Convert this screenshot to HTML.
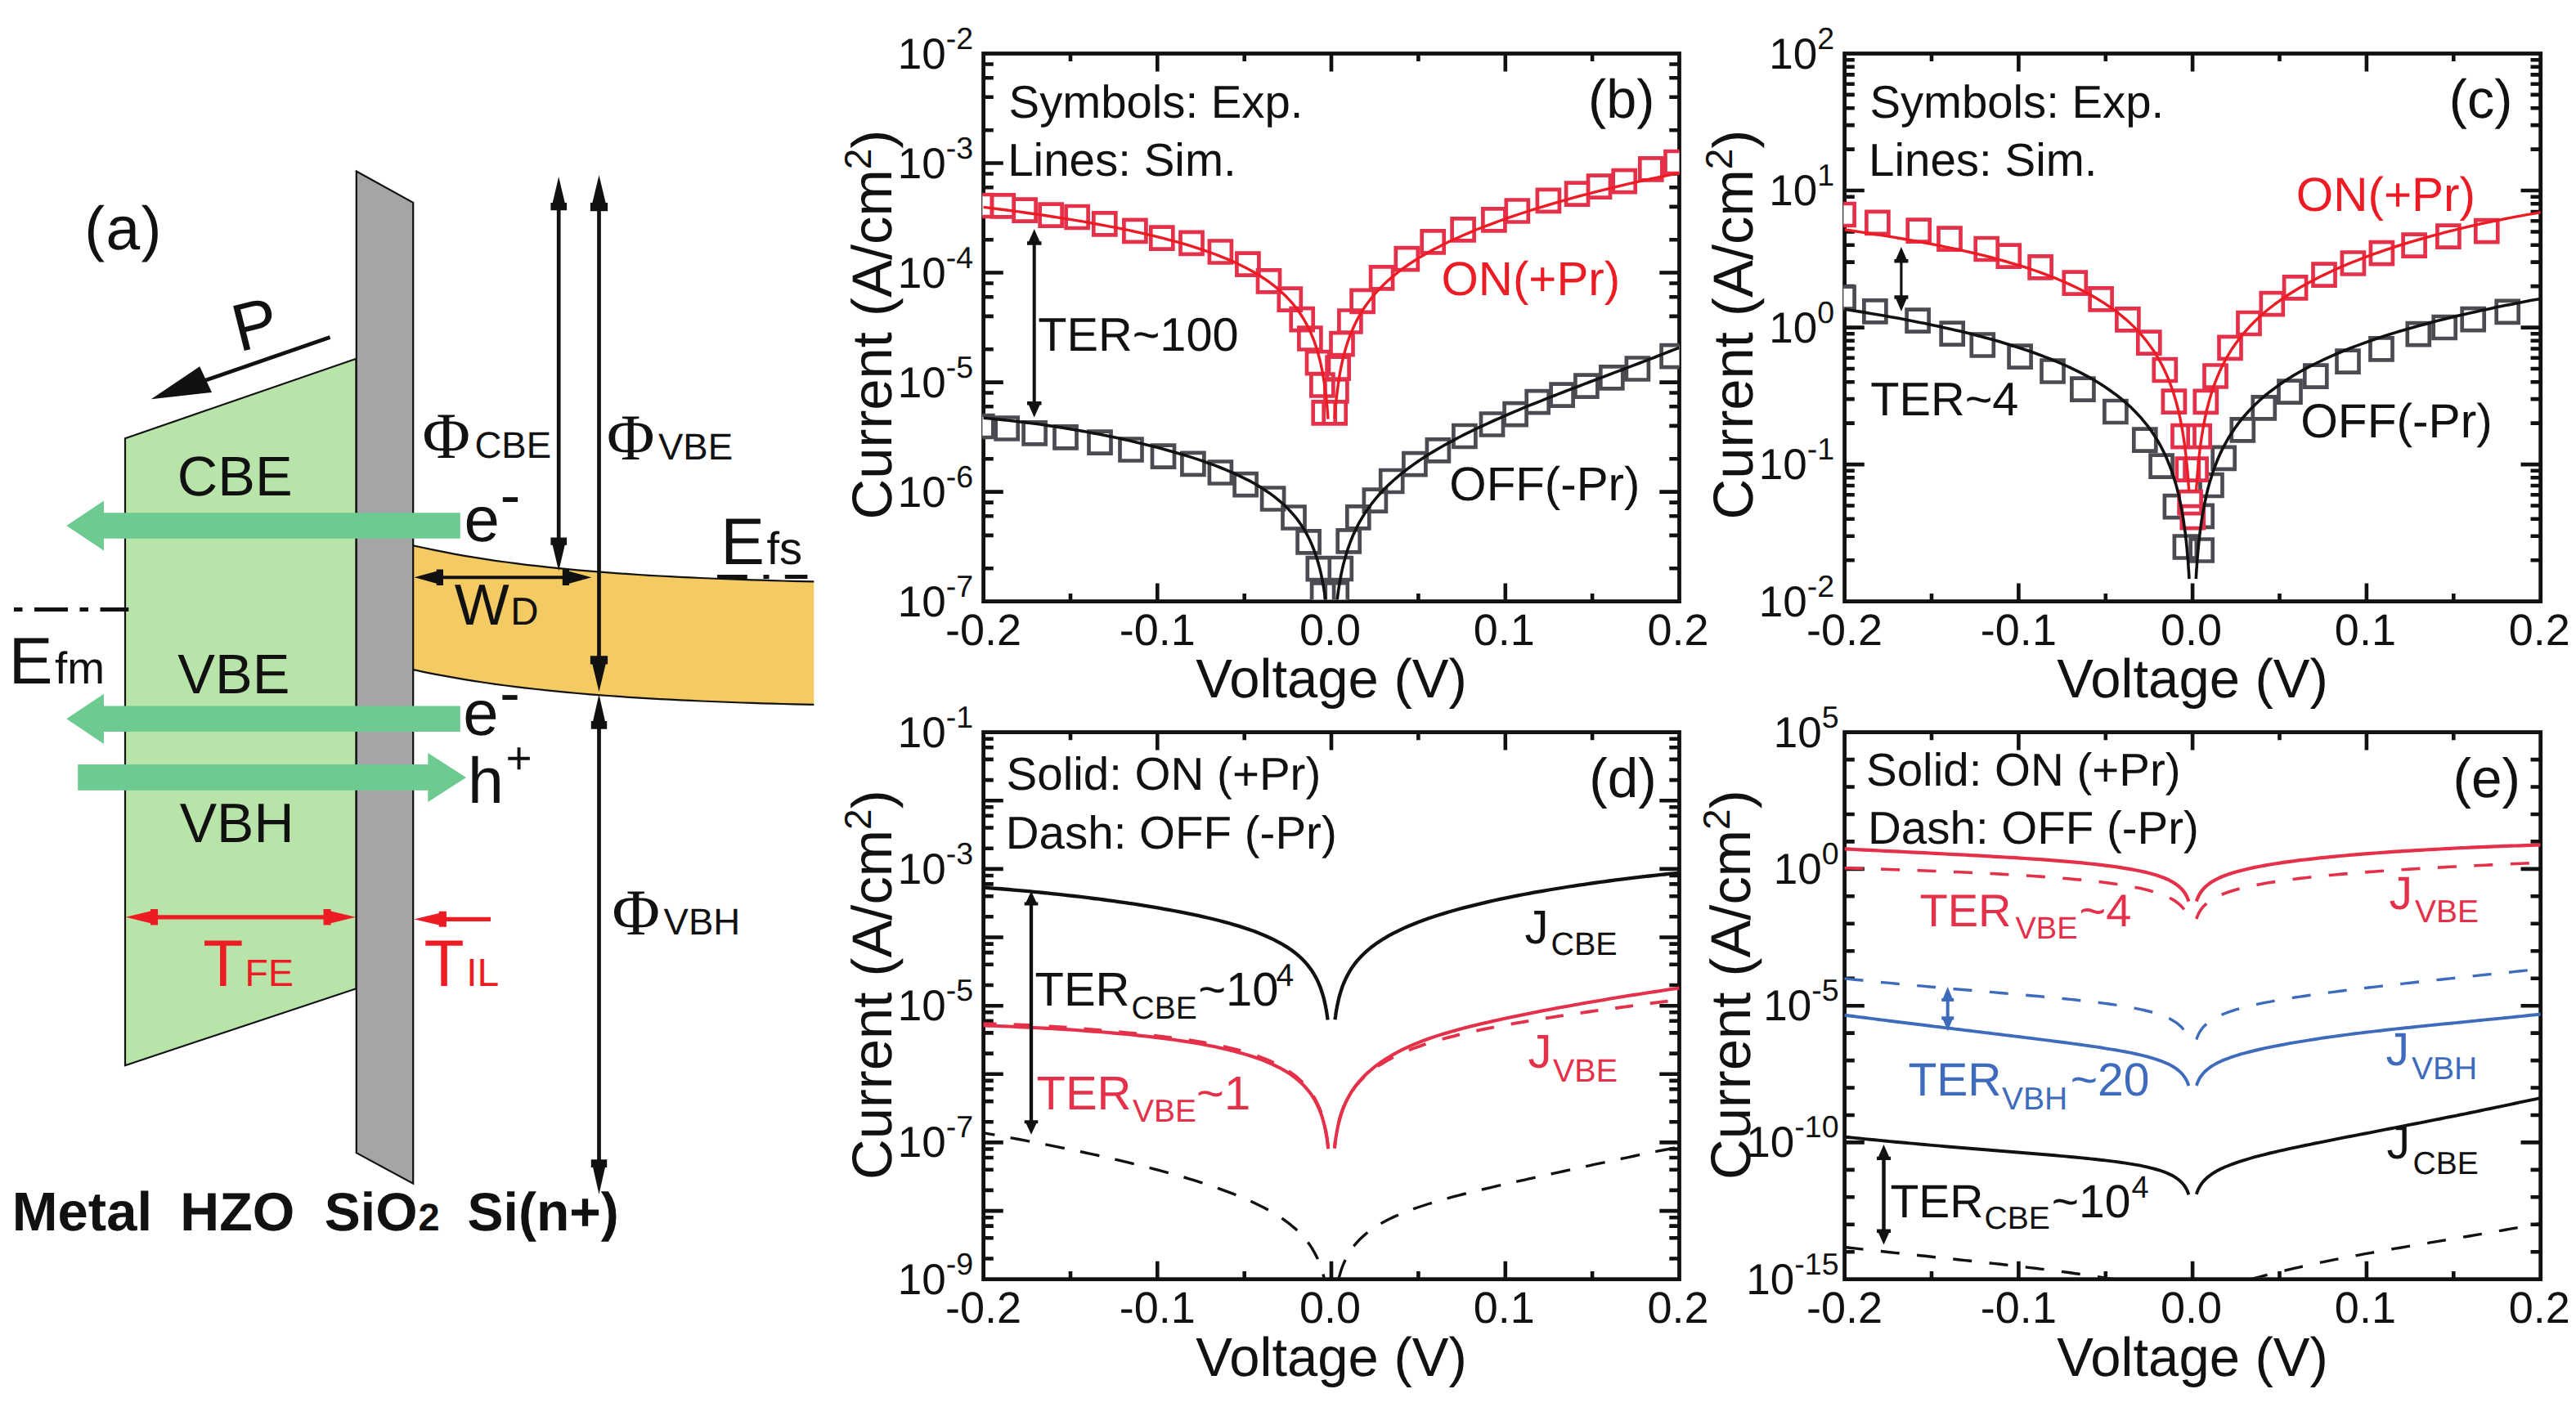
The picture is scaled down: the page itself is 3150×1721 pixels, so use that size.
<!DOCTYPE html>
<html lang="en">
<head>
<meta charset="utf-8">
<title>FTJ band diagram and I-V characteristics</title>
<style>html,body{margin:0;padding:0;background:#fff}body{width:3150px;height:1721px;overflow:hidden}svg{display:block}</style>
</head>
<body>
<svg width="3150" height="1721" viewBox="0 0 3150 1721" font-family="'Liberation Sans', Arial, Helvetica, sans-serif" fill="#111111" text-rendering="geometricPrecision">
<rect width="3150" height="1721" fill="#ffffff"/>
<defs>
<clipPath id="cb"><rect x="1201.3" y="67.5" width="852.2" height="666.1"/></clipPath>
<clipPath id="cc"><rect x="2254.3" y="67.5" width="852.4" height="666.1"/></clipPath>
<clipPath id="cd"><rect x="1201.3" y="897.6" width="852.2" height="665.1"/></clipPath>
<clipPath id="ce"><rect x="2254.3" y="897.6" width="852.4" height="665.1"/></clipPath>
</defs>
<g id="panel-a">
<path d="M153 536.2L435.6 438.8V1209.2L153 1303.2z" fill="#b8e4a9" stroke="#111111" stroke-width="2.2" stroke-linejoin="miter"/>
<path d="M505.2 667.2L517.8 670L530.3 672.7L542.9 675.2L555.5 677.6L568 679.8L580.6 681.9L593.2 683.9L605.7 685.8L618.3 687.5L630.9 689.2L643.4 690.8L656 692.2L668.6 693.6L681.1 694.9L693.7 696.2L706.3 697.3L718.8 698.4L731.4 699.4L744 700.4L756.5 701.3L769.1 702.2L781.7 703L794.2 703.8L806.8 704.5L819.4 705.2L831.9 705.8L844.5 706.4L857.1 707L869.6 707.5L882.2 708L894.8 708.5L907.3 708.9L919.9 709.3L932.5 709.7L945 710.1L957.6 710.5L970.2 710.8L982.7 711.1L995.3 711.4L995.3 861.9L982.7 861.6L970.2 861.3L957.6 861L945 860.6L932.5 860.3L919.9 859.9L907.3 859.5L894.8 859L882.2 858.5L869.6 858L857.1 857.5L844.5 856.9L831.9 856.4L819.4 855.7L806.8 855.1L794.2 854.3L781.7 853.6L769.1 852.8L756.5 851.9L744 851L731.4 850.1L718.8 849.1L706.3 848L693.7 846.9L681.1 845.7L668.6 844.4L656 843L643.4 841.6L630.9 840.1L618.3 838.5L605.7 836.8L593.2 835L580.6 833.1L568 831.1L555.5 828.9L542.9 826.7L530.3 824.3L517.8 821.8L505.2 819.1z" fill="#f4cb62"/>
<path d="M505.2 667.2L517.8 670L530.3 672.7L542.9 675.2L555.5 677.6L568 679.8L580.6 681.9L593.2 683.9L605.7 685.8L618.3 687.5L630.9 689.2L643.4 690.8L656 692.2L668.6 693.6L681.1 694.9L693.7 696.2L706.3 697.3L718.8 698.4L731.4 699.4L744 700.4L756.5 701.3L769.1 702.2L781.7 703L794.2 703.8L806.8 704.5L819.4 705.2L831.9 705.8L844.5 706.4L857.1 707L869.6 707.5L882.2 708L894.8 708.5L907.3 708.9L919.9 709.3L932.5 709.7L945 710.1L957.6 710.5L970.2 710.8L982.7 711.1L995.3 711.4" fill="none" stroke="#111111" stroke-width="2.2"/>
<path d="M995.3 861.9L982.7 861.6L970.2 861.3L957.6 861L945 860.6L932.5 860.3L919.9 859.9L907.3 859.5L894.8 859L882.2 858.5L869.6 858L857.1 857.5L844.5 856.9L831.9 856.4L819.4 855.7L806.8 855.1L794.2 854.3L781.7 853.6L769.1 852.8L756.5 851.9L744 851L731.4 850.1L718.8 849.1L706.3 848L693.7 846.9L681.1 845.7L668.6 844.4L656 843L643.4 841.6L630.9 840.1L618.3 838.5L605.7 836.8L593.2 835L580.6 833.1L568 831.1L555.5 828.9L542.9 826.7L530.3 824.3L517.8 821.8L505.2 819.1" fill="none" stroke="#111111" stroke-width="2.2"/>
<path d="M435.8 209.5L505.2 247.8V1447.6L435.8 1410.2z" fill="#a5a5a7" stroke="#111111" stroke-width="2.2"/>
<path d="M81.3 643L127 612.4V627.2H562.8V658.8H127V673.6z" fill="#6dca90"/>
<path d="M81.3 879.3L127 848.7V863.5H562.8V895.1H127V909.9z" fill="#6dca90"/>
<path d="M570 950.9L523.3 920.9V935.1H95.2V966.7H523.3V980.9z" fill="#6dca90"/>
<path d="M403.6 412.6L245 467.3" stroke="#111111" stroke-width="4.8"/>
<path d="M184.8 488.3L244.2 448.3L259 480z" fill="#111111"/>
<text transform="translate(292.3 430.7) rotate(-14)" font-size="82">P</text>
<text x="287.2" y="606.3" font-size="68.5" text-anchor="middle">CBE</text>
<text x="285.9" y="847.9" font-size="68.5" text-anchor="middle">VBE</text>
<text x="289.6" y="1030.2" font-size="68" text-anchor="middle">VBH</text>
<text x="103.2" y="304.8" font-size="75" letter-spacing="1.3">(a)</text>
<path d="M17 745.5H157.3" stroke="#111111" stroke-width="4.8" stroke-dasharray="10.5 14.5 41 14.5"/>
<text x="10.8" y="836" font-size="80.5">E<tspan font-size="55" dx="2.5">fm</tspan></text>
<path d="M877 705.6H913.8M933.5 705.6H940.5M959.8 705.6H987.4" stroke="#111111" stroke-width="5"/>
<text x="881.2" y="690.4" font-size="80.5">E<tspan font-size="56" dx="2.6">fs</tspan></text>
<path d="M683.2 255.3V659.4" stroke="#111111" stroke-width="4.7"/>
<path d="M683.2 216.3L675.7 247.9L673.4 247.9L673.4 257.3L693.1 257.3L693.1 247.9L690.7 247.9z" fill="#111111"/>
<path d="M683.2 698.4L690.7 666.8L693.1 666.8L693.1 657.4L673.4 657.4L673.4 666.8L675.7 666.8z" fill="#111111"/>
<path d="M732.5 256.2V804.3" stroke="#111111" stroke-width="4.7"/>
<path d="M732.5 214.2L724.4 248.1L721.9 248.1L721.9 258.2L743.1 258.2L743.1 248.1L740.6 248.1z" fill="#111111"/>
<path d="M732.5 846.3L740.6 812.4L743.1 812.4L743.1 802.3L721.9 802.3L721.9 812.4L724.4 812.4z" fill="#111111"/>
<path d="M732.5 889.7V1420.3" stroke="#111111" stroke-width="4.7"/>
<path d="M732.5 849.2L725.1 881.9L722.8 881.9L722.8 891.7L742.2 891.7L742.2 881.9L739.9 881.9z" fill="#111111"/>
<path d="M732.5 1460.8L739.9 1428.1L742.2 1428.1L742.2 1418.3L722.8 1418.3L722.8 1428.1L725.1 1428.1z" fill="#111111"/>
<path d="M540 706.2H689.8" stroke="#111111" stroke-width="4"/>
<path d="M506.5 706.2L533.8 713.7L533.8 716.1L542 716.1L542 696.4L533.8 696.4L533.8 698.7z" fill="#111111"/>
<path d="M723.3 706.2L696 698.7L696 696.4L687.8 696.4L687.8 716.1L696 716.1L696 713.7z" fill="#111111"/>
<text x="516.5" y="560" font-size="80" font-family="'Liberation Serif', 'Times New Roman', Times, serif">&#934;<tspan font-family="'Liberation Sans', Arial, Helvetica, sans-serif" font-size="45.5" dx="5.5">CBE</tspan></text>
<text x="742" y="562.4" font-size="80" font-family="'Liberation Serif', 'Times New Roman', Times, serif">&#934;<tspan font-family="'Liberation Sans', Arial, Helvetica, sans-serif" font-size="45.5" dx="4.5">VBE</tspan></text>
<text x="748.6" y="1143" font-size="80" font-family="'Liberation Serif', 'Times New Roman', Times, serif">&#934;<tspan font-family="'Liberation Sans', Arial, Helvetica, sans-serif" font-size="45.5" dx="4.5">VBH</tspan></text>
<text x="555.8" y="764" font-size="71">W<tspan font-size="47.5" dx="1.5">D</tspan></text>
<text x="567.6" y="661.6" font-size="78">e<tspan font-size="75" dy="-30.6" dx="0.6">-</tspan></text>
<text x="566.2" y="898.8" font-size="78">e<tspan font-size="75" dy="-25.4" dx="1.5">-</tspan></text>
<text x="572.0" y="981.5" font-size="79">h<tspan font-size="55" dy="-35.4" dx="2.5">+</tspan></text>
<path d="M191.1 1121.8H397.5" stroke="#ed1c24" stroke-width="5.2"/>
<path d="M153.6 1121.8L184 1129.2L184 1131.5L193.1 1131.5L193.1 1112L184 1112L184 1114.4z" fill="#ed1c24"/>
<path d="M435 1121.8L404.6 1114.4L404.6 1112L395.5 1112L395.5 1131.5L404.6 1131.5L404.6 1129.2z" fill="#ed1c24"/>
<path d="M543.9 1124.3H600" stroke="#ed1c24" stroke-width="5.2"/>
<path d="M506.4 1124.3L536.8 1131.5L536.8 1133.8L545.9 1133.8L545.9 1114.8L536.8 1114.8L536.8 1117.1z" fill="#ed1c24"/>
<text x="248.3" y="1205.5" font-size="80.5" fill="#ed1c24">T<tspan font-size="46.5" dx="2">FE</tspan></text>
<text x="518.6" y="1205.5" font-size="80.5" fill="#ed1c24">T<tspan font-size="48" dx="2.5">IL</tspan></text>
<text x="14.8" y="1505.3" font-size="67" font-weight="bold">Metal</text>
<text x="220.3" y="1505.3" font-size="66.3" font-weight="bold">HZO</text>
<text x="396.8" y="1505.3" font-size="66" font-weight="bold">SiO<tspan font-size="47" dx="1">2</tspan></text>
<text x="571.6" y="1505.3" font-size="66" font-weight="bold">Si(n+)</text>
</g>
<g id="panel-b">
<path d="M1202.6 159.2h12.2M2053.5 159.2h-12.2M1202.6 118.8h12.2M2053.5 118.8h-12.2M1202.6 95.2h12.2M2053.5 95.2h-12.2M1202.6 78.5h12.2M2053.5 78.5h-12.2M1202.6 199.5h24.2M2053.5 199.5h-24.2M1202.6 293.2h12.2M2053.5 293.2h-12.2M1202.6 252.9h12.2M2053.5 252.9h-12.2M1202.6 229.3h12.2M2053.5 229.3h-12.2M1202.6 212.5h12.2M2053.5 212.5h-12.2M1202.6 333.5h24.2M2053.5 333.5h-24.2M1202.6 427.2h12.2M2053.5 427.2h-12.2M1202.6 386.9h12.2M2053.5 386.9h-12.2M1202.6 363.3h12.2M2053.5 363.3h-12.2M1202.6 346.5h12.2M2053.5 346.5h-12.2M1202.6 467.6h24.2M2053.5 467.6h-24.2M1202.6 561.2h12.2M2053.5 561.2h-12.2M1202.6 520.9h12.2M2053.5 520.9h-12.2M1202.6 497.3h12.2M2053.5 497.3h-12.2M1202.6 480.5h12.2M2053.5 480.5h-12.2M1202.6 601.6h24.2M2053.5 601.6h-24.2M1202.6 695.3h12.2M2053.5 695.3h-12.2M1202.6 654.9h12.2M2053.5 654.9h-12.2M1202.6 631.3h12.2M2053.5 631.3h-12.2M1202.6 614.6h12.2M2053.5 614.6h-12.2M1309 65.5v9.6M1309 735.6v-9.6M1415.3 65.5v22M1415.3 735.6v-22M1521.7 65.5v9.6M1521.7 735.6v-9.6M1628 65.5v22M1628 735.6v-22M1734.4 65.5v9.6M1734.4 735.6v-9.6M1840.8 65.5v22M1840.8 735.6v-22M1947.1 65.5v9.6M1947.1 735.6v-9.6" stroke="#111111" stroke-width="4.6" fill="none"/>
<text x="1190" y="83.5" font-size="53" text-anchor="end">10<tspan font-size="37.5" dy="-24">-2</tspan></text>
<text x="1190" y="217.5" font-size="53" text-anchor="end">10<tspan font-size="37.5" dy="-24">-3</tspan></text>
<text x="1190" y="351.5" font-size="53" text-anchor="end">10<tspan font-size="37.5" dy="-24">-4</tspan></text>
<text x="1190" y="485.6" font-size="53" text-anchor="end">10<tspan font-size="37.5" dy="-24">-5</tspan></text>
<text x="1190" y="619.6" font-size="53" text-anchor="end">10<tspan font-size="37.5" dy="-24">-6</tspan></text>
<text x="1190" y="753.6" font-size="53" text-anchor="end">10<tspan font-size="37.5" dy="-24">-7</tspan></text>
<text x="1202.6" y="788.9" font-size="54" text-anchor="middle">-0.2</text>
<text x="1415.3" y="788.9" font-size="54" text-anchor="middle">-0.1</text>
<text x="1626.5" y="788.9" font-size="54" text-anchor="middle">0.0</text>
<text x="1839.3" y="788.9" font-size="54" text-anchor="middle">0.1</text>
<text x="2052" y="788.9" font-size="54" text-anchor="middle">0.2</text>
<text x="1628" y="853.4" font-size="67" text-anchor="middle">Voltage (V)</text>
<text transform="translate(1090.4 397.1) rotate(-90)" font-size="68.8" text-anchor="middle">Current (A/cm<tspan font-size="46" dy="-25.5">2</tspan><tspan dy="25.5">)</tspan></text>
<rect x="1202.6" y="65.5" width="850.9" height="670.1" fill="none" stroke="#111111" stroke-width="4.8"/>
<g clip-path="url(#cb)">
<path d="M1187.3 508h27v27h-27zM1217.7 510.5h27v27h-27zM1251.6 516.3h27v27h-27zM1289.5 521.4h27v27h-27zM1331.5 527.6h27v27h-27zM1369.5 536.5h27v27h-27zM1409 544.6h27v27h-27zM1445.4 553.8h27v27h-27zM1478.9 564.5h27v27h-27zM1509.6 579.2h27v27h-27zM1543.1 596.5h27v27h-27zM1568.5 619.5h27v27h-27zM1586.6 649.3h27v27h-27zM1598.8 682.2h27v27h-27zM1604.1 713.5h27v27h-27zM1620.8 713.2h27v27h-27zM1625.8 682h27v27h-27zM1635.7 648.4h27v27h-27zM1647.3 619.4h27v27h-27zM1667.9 598.7h27v27h-27zM1688.2 575h27v27h-27zM1716.4 554.1h27v27h-27zM1744.9 537.3h27v27h-27zM1777.4 520h27v27h-27zM1811 505.5h27v27h-27zM1839.6 493.1h27v27h-27zM1866.7 478.2h27v27h-27zM1896.6 469.7h27v27h-27zM1926.4 458.6h27v27h-27zM1957.3 448.3h27v27h-27zM1988.9 437.5h27v27h-27zM2031.6 422.1h27v27h-27z" fill="#ffffff"/>
<path d="M1187.3 508h27v27h-27zM1217.7 510.5h27v27h-27zM1251.6 516.3h27v27h-27zM1289.5 521.4h27v27h-27zM1331.5 527.6h27v27h-27zM1369.5 536.5h27v27h-27zM1409 544.6h27v27h-27zM1445.4 553.8h27v27h-27zM1478.9 564.5h27v27h-27zM1509.6 579.2h27v27h-27zM1543.1 596.5h27v27h-27zM1568.5 619.5h27v27h-27zM1586.6 649.3h27v27h-27zM1598.8 682.2h27v27h-27zM1604.1 713.5h27v27h-27zM1620.8 713.2h27v27h-27zM1625.8 682h27v27h-27zM1635.7 648.4h27v27h-27zM1647.3 619.4h27v27h-27zM1667.9 598.7h27v27h-27zM1688.2 575h27v27h-27zM1716.4 554.1h27v27h-27zM1744.9 537.3h27v27h-27zM1777.4 520h27v27h-27zM1811 505.5h27v27h-27zM1839.6 493.1h27v27h-27zM1866.7 478.2h27v27h-27zM1896.6 469.7h27v27h-27zM1926.4 458.6h27v27h-27zM1957.3 448.3h27v27h-27zM1988.9 437.5h27v27h-27zM2031.6 422.1h27v27h-27z" fill="none" stroke="#4b4b51" stroke-width="4.7"/>
<path d="M1186.1 238h27v27h-27zM1212.8 238.4h27v27h-27zM1239.6 243.7h27v27h-27zM1271.6 249.7h27v27h-27zM1303.6 252h27v27h-27zM1337.3 260.3h27v27h-27zM1374.4 268.9h27v27h-27zM1407.3 277.6h27v27h-27zM1443.5 283.8h27v27h-27zM1478.9 294.5h27v27h-27zM1512.4 309.6h27v27h-27zM1538 330.3h27v27h-27zM1563.8 352.7h27v27h-27zM1578.7 377.2h27v27h-27zM1588.4 400.5h27v27h-27zM1598 430.1h27v27h-27zM1603.4 457.5h27v27h-27zM1605.7 491.4h27v27h-27zM1618.7 491.4h27v27h-27zM1620.4 464.4h27v27h-27zM1622.6 436.6h27v27h-27zM1627.5 407.1h27v27h-27zM1637.4 379.5h27v27h-27zM1652.6 354.8h27v27h-27zM1676.1 326.3h27v27h-27zM1706.8 303.1h27v27h-27zM1738.7 282.4h27v27h-27zM1775.6 267.3h27v27h-27zM1813.4 255.3h27v27h-27zM1841.8 244.5h27v27h-27zM1879.9 231.9h27v27h-27zM1915.1 223.6h27v27h-27zM1942 214.6h27v27h-27zM1972.7 208.2h27v27h-27zM2005.3 193.3h27v27h-27zM2036.5 185h27v27h-27z" fill="#ffffff"/>
<path d="M1186.1 238h27v27h-27zM1212.8 238.4h27v27h-27zM1239.6 243.7h27v27h-27zM1271.6 249.7h27v27h-27zM1303.6 252h27v27h-27zM1337.3 260.3h27v27h-27zM1374.4 268.9h27v27h-27zM1407.3 277.6h27v27h-27zM1443.5 283.8h27v27h-27zM1478.9 294.5h27v27h-27zM1512.4 309.6h27v27h-27zM1538 330.3h27v27h-27zM1563.8 352.7h27v27h-27zM1578.7 377.2h27v27h-27zM1588.4 400.5h27v27h-27zM1598 430.1h27v27h-27zM1603.4 457.5h27v27h-27zM1605.7 491.4h27v27h-27zM1618.7 491.4h27v27h-27zM1620.4 464.4h27v27h-27zM1622.6 436.6h27v27h-27zM1627.5 407.1h27v27h-27zM1637.4 379.5h27v27h-27zM1652.6 354.8h27v27h-27zM1676.1 326.3h27v27h-27zM1706.8 303.1h27v27h-27zM1738.7 282.4h27v27h-27zM1775.6 267.3h27v27h-27zM1813.4 255.3h27v27h-27zM1841.8 244.5h27v27h-27zM1879.9 231.9h27v27h-27zM1915.1 223.6h27v27h-27zM1942 214.6h27v27h-27zM1972.7 208.2h27v27h-27zM2005.3 193.3h27v27h-27zM2036.5 185h27v27h-27z" fill="none" stroke="#e5304a" stroke-width="4.7"/>
<path d="M1202.6 253.4L1208.7 254.1L1214.9 254.9L1221 255.7L1227.1 256.5L1233.2 257.3L1239.4 258.1L1245.5 258.9L1251.6 259.8L1257.8 260.7L1263.9 261.5L1270 262.4L1276.2 263.3L1282.3 264.2L1288.4 265.2L1294.5 266.1L1300.7 267.1L1306.8 268.1L1312.9 269.1L1319.1 270.1L1325.2 271.2L1331.3 272.2L1337.4 273.3L1343.6 274.5L1349.7 275.6L1355.8 276.8L1362 277.9L1368.1 279.2L1374.2 280.4L1380.4 281.7L1386.5 283L1392.6 284.4L1398.7 285.7L1404.9 287.2L1411 288.6L1417.1 290.1L1423.3 291.7L1429.4 293.3L1435.5 294.9L1441.6 296.6L1447.8 298.4L1453.9 300.2L1460 302.1L1466.2 304.1L1472.3 306.2L1478.4 308.3L1484.6 310.5L1490.7 312.9L1496.8 315.3L1502.9 317.9L1509.1 320.6L1515.2 323.5L1521.3 326.5L1527.5 329.7L1533.6 333.1L1539.7 336.8L1545.8 340.7L1552 345L1558.1 349.6L1564.2 354.7L1568.6 358.7L1572.7 362.6L1576.4 366.6L1580 370.5L1583.2 374.5L1586.3 378.5L1589.2 382.5L1591.8 386.5L1594.3 390.5L1596.6 394.5L1598.7 398.5L1600.7 402.5L1602.6 406.6L1604.3 410.6L1606 414.6L1607.5 418.7L1608.9 422.7L1610.2 426.8L1611.4 430.8L1612.5 434.9L1613.6 439L1614.6 443L1615.5 447.1L1616.4 451.2L1617.2 455.3L1617.9 459.4L1618.6 463.4L1619.2 467.5L1619.8 471.6L1620.4 475.7L1620.9 479.8L1621.4 483.9L1621.9 488L1622.3 492.1L1622.7 496.2L1623.1 500.3L1623.4 504.4L1623.7 508.5L1624 512.6" fill="none" stroke="#ed1c24" stroke-width="3.4" stroke-linejoin="round"/>
<path d="M1632.1 512.2L1632.4 508L1632.7 503.9L1633 499.8L1633.4 495.6L1633.8 491.5L1634.2 487.4L1634.7 483.2L1635.2 479.1L1635.7 474.9L1636.3 470.8L1636.9 466.6L1637.5 462.5L1638.2 458.3L1638.9 454.2L1639.7 450L1640.6 445.9L1641.5 441.7L1642.5 437.5L1643.6 433.3L1644.7 429.2L1645.9 425L1647.2 420.8L1648.6 416.6L1650.1 412.4L1651.8 408.2L1653.5 404L1655.4 399.8L1657.4 395.5L1659.5 391.3L1661.8 387.1L1664.3 382.8L1666.9 378.5L1669.8 374.3L1672.9 370L1676.1 365.7L1679.7 361.3L1683.4 357L1687.5 352.6L1691.9 348.3L1698 342.6L1704.1 337.3L1710.3 332.4L1716.4 327.8L1722.5 323.5L1728.6 319.5L1734.8 315.6L1740.9 312L1747 308.5L1753.2 305.1L1759.3 301.9L1765.4 298.8L1771.5 295.8L1777.7 293L1783.8 290.2L1789.9 287.5L1796.1 284.9L1802.2 282.3L1808.3 279.8L1814.5 277.4L1820.6 275.1L1826.7 272.8L1832.8 270.5L1839 268.3L1845.1 266.2L1851.2 264.1L1857.4 262L1863.5 260L1869.6 258L1875.7 256.1L1881.9 254.2L1888 252.3L1894.1 250.5L1900.3 248.7L1906.4 246.9L1912.5 245.1L1918.7 243.4L1924.8 241.7L1930.9 240L1937 238.4L1943.2 236.8L1949.3 235.2L1955.4 233.6L1961.6 232.1L1967.7 230.6L1973.8 229.1L1979.9 227.6L1986.1 226.1L1992.2 224.7L1998.3 223.3L2004.5 221.9L2010.6 220.5L2016.7 219.2L2022.9 217.9L2029 216.6L2035.1 215.3L2041.2 214L2047.4 212.8L2053.5 211.5" fill="none" stroke="#ed1c24" stroke-width="3.4" stroke-linejoin="round"/>
<path d="M1202.6 511.3L1208.7 511.8L1214.9 512.4L1221 513L1227.1 513.6L1233.2 514.3L1239.4 515L1245.5 515.7L1251.6 516.4L1257.8 517.2L1263.9 518L1270 518.8L1276.2 519.7L1282.3 520.6L1288.4 521.5L1294.5 522.5L1300.7 523.4L1306.8 524.5L1312.9 525.5L1319.1 526.6L1325.2 527.6L1331.3 528.8L1337.4 529.9L1343.6 531.1L1349.7 532.3L1355.8 533.6L1362 534.8L1368.1 536.1L1374.2 537.5L1380.4 538.8L1386.5 540.2L1392.6 541.7L1398.7 543.2L1404.9 544.7L1411 546.2L1417.1 547.8L1423.3 549.5L1429.4 551.2L1435.5 552.9L1441.6 554.7L1447.8 556.5L1453.9 558.4L1460 560.4L1466.2 562.4L1472.3 564.5L1478.4 566.7L1484.6 568.9L1490.7 571.3L1496.8 573.7L1502.9 576.3L1509.1 579L1515.2 581.8L1521.3 584.8L1527.5 587.9L1533.6 591.3L1539.7 594.9L1545.8 598.7L1552 602.9L1558.1 607.4L1564.2 612.3L1569.6 617L1574.4 621.7L1578.9 626.4L1583 631.2L1586.8 635.9L1590.2 640.7L1593.4 645.5L1596.3 650.3L1598.9 655.2L1601.4 660L1603.6 664.9L1605.6 669.8L1607.5 674.7L1609.2 679.6L1610.8 684.5L1612.2 689.4L1613.6 694.4L1614.8 699.4L1615.9 704.3L1616.9 709.3L1617.8 714.3L1618.7 719.3L1619.5 724.3L1620.2 729.3L1620.8 734.3L1621.4 739.3L1622 744.3L1622.5 749.3L1623 754.4L1623.4 759.4L1623.8 764.4L1624.1 769.5L1624.5 774.5L1624.8 779.5L1625 784.6L1625.3 789.6L1625.5 794.7L1625.7 799.7L1625.9 804.8" fill="none" stroke="#111111" stroke-width="3.6" stroke-linejoin="round"/>
<path d="M1630.2 804.3L1630.4 799.3L1630.6 794.2L1630.8 789.1L1631.1 783.9L1631.3 778.8L1631.6 773.7L1632 768.6L1632.3 763.5L1632.7 758.4L1633.1 753.3L1633.6 748.1L1634.1 743L1634.7 737.9L1635.3 732.7L1635.9 727.6L1636.6 722.4L1637.4 717.3L1638.3 712.1L1639.2 706.9L1640.2 701.7L1641.3 696.5L1642.5 691.3L1643.9 686.1L1645.3 680.9L1646.9 675.6L1648.6 670.3L1650.5 665L1652.5 659.7L1654.7 654.4L1657.2 649L1659.8 643.7L1662.7 638.2L1665.9 632.8L1669.3 627.3L1673.1 621.8L1677.2 616.2L1681.7 610.6L1686.5 604.9L1691.9 599.2L1698 593.1L1704.1 587.5L1710.3 582.2L1716.4 577.2L1722.5 572.5L1728.6 568.1L1734.8 563.8L1740.9 559.7L1747 555.8L1753.2 552.1L1759.3 548.5L1765.4 545L1771.5 541.6L1777.7 538.3L1783.8 535L1789.9 531.9L1796.1 528.9L1802.2 525.9L1808.3 522.9L1814.5 520.1L1820.6 517.3L1826.7 514.5L1832.8 511.8L1839 509.1L1845.1 506.5L1851.2 503.9L1857.4 501.3L1863.5 498.7L1869.6 496.2L1875.7 493.8L1881.9 491.3L1888 488.9L1894.1 486.4L1900.3 484L1906.4 481.6L1912.5 479.3L1918.7 476.9L1924.8 474.6L1930.9 472.2L1937 469.9L1943.2 467.5L1949.3 465.2L1955.4 462.9L1961.6 460.6L1967.7 458.3L1973.8 455.9L1979.9 453.6L1986.1 451.3L1992.2 448.9L1998.3 446.6L2004.5 444.3L2010.6 441.9L2016.7 439.6L2022.9 437.2L2029 434.8L2035.1 432.4L2041.2 430L2047.4 427.6L2053.5 425.2" fill="none" stroke="#111111" stroke-width="3.6" stroke-linejoin="round"/>
</g>
<text x="1233.6" y="143.5" font-size="56.3">Symbols: Exp.</text>
<text x="1232.2" y="215.2" font-size="56.5">Lines: Sim.</text>
<text x="1942" y="143.5" font-size="66.5">(b)</text>
<text x="1762.5" y="360.5" font-size="58.3" fill="#ed1c24">ON(+Pr)</text>
<text x="1772.3" y="611.6" font-size="58.3">OFF(-Pr)</text>
<text x="1269.3" y="429.4" font-size="57.7">TER~100</text>
<path d="M1264.7 297.8V493.1" stroke="#111111" stroke-width="4"/>
<path d="M1264.7 280.3L1258 295.3L1256 295.3L1256 299.8L1273.5 299.8L1273.5 295.3L1271.4 295.3z" fill="#111111"/>
<path d="M1264.7 510.6L1271.4 495.6L1273.5 495.6L1273.5 491.1L1256 491.1L1256 495.6L1258 495.6z" fill="#111111"/>
</g>
<g id="panel-c">
<path d="M2255.6 182.6h12.2M3106.7 182.6h-12.2M2255.6 153.1h12.2M3106.7 153.1h-12.2M2255.6 132.2h12.2M3106.7 132.2h-12.2M2255.6 115.9h12.2M3106.7 115.9h-12.2M2255.6 102.7h12.2M3106.7 102.7h-12.2M2255.6 91.4h12.2M3106.7 91.4h-12.2M2255.6 81.7h12.2M3106.7 81.7h-12.2M2255.6 73.2h12.2M3106.7 73.2h-12.2M2255.6 233h24.2M3106.7 233h-24.2M2255.6 350.1h12.2M3106.7 350.1h-12.2M2255.6 320.6h12.2M3106.7 320.6h-12.2M2255.6 299.7h12.2M3106.7 299.7h-12.2M2255.6 283.5h12.2M3106.7 283.5h-12.2M2255.6 270.2h12.2M3106.7 270.2h-12.2M2255.6 259h12.2M3106.7 259h-12.2M2255.6 249.3h12.2M3106.7 249.3h-12.2M2255.6 240.7h12.2M3106.7 240.7h-12.2M2255.6 400.6h24.2M3106.7 400.6h-24.2M2255.6 517.6h12.2M3106.7 517.6h-12.2M2255.6 488.1h12.2M3106.7 488.1h-12.2M2255.6 467.2h12.2M3106.7 467.2h-12.2M2255.6 451h12.2M3106.7 451h-12.2M2255.6 437.7h12.2M3106.7 437.7h-12.2M2255.6 426.5h12.2M3106.7 426.5h-12.2M2255.6 416.8h12.2M3106.7 416.8h-12.2M2255.6 408.2h12.2M3106.7 408.2h-12.2M2255.6 568.1h24.2M3106.7 568.1h-24.2M2255.6 685.2h12.2M3106.7 685.2h-12.2M2255.6 655.7h12.2M3106.7 655.7h-12.2M2255.6 634.7h12.2M3106.7 634.7h-12.2M2255.6 618.5h12.2M3106.7 618.5h-12.2M2255.6 605.2h12.2M3106.7 605.2h-12.2M2255.6 594h12.2M3106.7 594h-12.2M2255.6 584.3h12.2M3106.7 584.3h-12.2M2255.6 575.7h12.2M3106.7 575.7h-12.2M2362 65.5v9.6M2362 735.6v-9.6M2468.4 65.5v22M2468.4 735.6v-22M2574.8 65.5v9.6M2574.8 735.6v-9.6M2681.1 65.5v22M2681.1 735.6v-22M2787.5 65.5v9.6M2787.5 735.6v-9.6M2893.9 65.5v22M2893.9 735.6v-22M3000.3 65.5v9.6M3000.3 735.6v-9.6" stroke="#111111" stroke-width="4.6" fill="none"/>
<text x="2243" y="83.5" font-size="53" text-anchor="end">10<tspan font-size="37.5" dy="-24">2</tspan></text>
<text x="2243" y="251" font-size="53" text-anchor="end">10<tspan font-size="37.5" dy="-24">1</tspan></text>
<text x="2243" y="418.6" font-size="53" text-anchor="end">10<tspan font-size="37.5" dy="-24">0</tspan></text>
<text x="2243" y="586.1" font-size="53" text-anchor="end">10<tspan font-size="37.5" dy="-24">-1</tspan></text>
<text x="2243" y="753.6" font-size="53" text-anchor="end">10<tspan font-size="37.5" dy="-24">-2</tspan></text>
<text x="2255.6" y="788.9" font-size="54" text-anchor="middle">-0.2</text>
<text x="2468.4" y="788.9" font-size="54" text-anchor="middle">-0.1</text>
<text x="2679.6" y="788.9" font-size="54" text-anchor="middle">0.0</text>
<text x="2892.4" y="788.9" font-size="54" text-anchor="middle">0.1</text>
<text x="3105.2" y="788.9" font-size="54" text-anchor="middle">0.2</text>
<text x="2681.1" y="853.4" font-size="67" text-anchor="middle">Voltage (V)</text>
<text transform="translate(2143.4 397.1) rotate(-90)" font-size="68.8" text-anchor="middle">Current (A/cm<tspan font-size="46" dy="-25.5">2</tspan><tspan dy="25.5">)</tspan></text>
<rect x="2255.6" y="65.5" width="851.1" height="670.1" fill="none" stroke="#111111" stroke-width="4.8"/>
<g clip-path="url(#cc)">
<path d="M2240.6 350.7h27v27h-27zM2279.4 367.3h27v27h-27zM2331.6 378.7h27v27h-27zM2373.7 394.6h27v27h-27zM2410.8 408.5h27v27h-27zM2456.6 422.6h27v27h-27zM2496.5 440.5h27v27h-27zM2533.4 462.6h27v27h-27zM2573.4 490h27v27h-27zM2609.3 524.7h27v27h-27zM2629.6 556.7h27v27h-27zM2646.9 606.2h27v27h-27zM2658.9 655.5h27v27h-27zM2678.7 659.5h27v27h-27zM2678.7 617.8h27v27h-27zM2690.5 580h27v27h-27zM2705.7 546.9h27v27h-27zM2728.8 512.4h27v27h-27zM2754.8 485.3h27v27h-27zM2786.5 465.6h27v27h-27zM2818.3 446.7h27v27h-27zM2857.5 428.7h27v27h-27zM2898.5 413.3h27v27h-27zM2943.8 395.2h27v27h-27zM2975.7 387h27v27h-27zM3010.7 377.2h27v27h-27zM3052.7 367.8h27v27h-27z" fill="#ffffff"/>
<path d="M2240.6 350.7h27v27h-27zM2279.4 367.3h27v27h-27zM2331.6 378.7h27v27h-27zM2373.7 394.6h27v27h-27zM2410.8 408.5h27v27h-27zM2456.6 422.6h27v27h-27zM2496.5 440.5h27v27h-27zM2533.4 462.6h27v27h-27zM2573.4 490h27v27h-27zM2609.3 524.7h27v27h-27zM2629.6 556.7h27v27h-27zM2646.9 606.2h27v27h-27zM2658.9 655.5h27v27h-27zM2678.7 659.5h27v27h-27zM2678.7 617.8h27v27h-27zM2690.5 580h27v27h-27zM2705.7 546.9h27v27h-27zM2728.8 512.4h27v27h-27zM2754.8 485.3h27v27h-27zM2786.5 465.6h27v27h-27zM2818.3 446.7h27v27h-27zM2857.5 428.7h27v27h-27zM2898.5 413.3h27v27h-27zM2943.8 395.2h27v27h-27zM2975.7 387h27v27h-27zM3010.7 377.2h27v27h-27zM3052.7 367.8h27v27h-27z" fill="none" stroke="#4b4b51" stroke-width="4.7"/>
<path d="M2240.6 249h27v27h-27zM2282.4 258.8h27v27h-27zM2332.7 268.6h27v27h-27zM2370.5 278.6h27v27h-27zM2415.7 291h27v27h-27zM2442.8 299.7h27v27h-27zM2481.6 313.4h27v27h-27zM2523.8 332.6h27v27h-27zM2555.6 352.4h27v27h-27zM2588.4 377.3h27v27h-27zM2614.3 405.6h27v27h-27zM2633.8 439h27v27h-27zM2644.9 477.7h27v27h-27zM2656.5 520.1h27v27h-27zM2661.8 560.6h27v27h-27zM2664.6 601.1h27v27h-27zM2667.8 619.2h27v27h-27zM2671.6 560.6h27v27h-27zM2675.7 520.1h27v27h-27zM2683.8 477.8h27v27h-27zM2695.5 446.5h27v27h-27zM2713.5 411.9h27v27h-27zM2736.5 382h27v27h-27zM2764.8 358.2h27v27h-27zM2793.1 338.4h27v27h-27zM2828.5 322.6h27v27h-27zM2863.9 308.5h27v27h-27zM2898.9 296.2h27v27h-27zM2938.6 286.6h27v27h-27zM2980.4 275.7h27v27h-27zM3027.3 269.1h27v27h-27z" fill="#ffffff"/>
<path d="M2240.6 249h27v27h-27zM2282.4 258.8h27v27h-27zM2332.7 268.6h27v27h-27zM2370.5 278.6h27v27h-27zM2415.7 291h27v27h-27zM2442.8 299.7h27v27h-27zM2481.6 313.4h27v27h-27zM2523.8 332.6h27v27h-27zM2555.6 352.4h27v27h-27zM2588.4 377.3h27v27h-27zM2614.3 405.6h27v27h-27zM2633.8 439h27v27h-27zM2644.9 477.7h27v27h-27zM2656.5 520.1h27v27h-27zM2661.8 560.6h27v27h-27zM2664.6 601.1h27v27h-27zM2667.8 619.2h27v27h-27zM2671.6 560.6h27v27h-27zM2675.7 520.1h27v27h-27zM2683.8 477.8h27v27h-27zM2695.5 446.5h27v27h-27zM2713.5 411.9h27v27h-27zM2736.5 382h27v27h-27zM2764.8 358.2h27v27h-27zM2793.1 338.4h27v27h-27zM2828.5 322.6h27v27h-27zM2863.9 308.5h27v27h-27zM2898.9 296.2h27v27h-27zM2938.6 286.6h27v27h-27zM2980.4 275.7h27v27h-27zM3027.3 269.1h27v27h-27z" fill="none" stroke="#e5304a" stroke-width="4.7"/>
<path d="M2255.6 280.9L2261.7 281.8L2267.9 282.7L2274 283.6L2280.1 284.6L2286.3 285.5L2292.4 286.5L2298.5 287.4L2304.6 288.4L2310.8 289.4L2316.9 290.4L2323 291.5L2329.2 292.5L2335.3 293.6L2341.4 294.7L2347.6 295.8L2353.7 297L2359.8 298.1L2366 299.3L2372.1 300.5L2378.2 301.8L2384.3 303.1L2390.5 304.4L2396.6 305.7L2402.7 307.1L2408.9 308.5L2415 309.9L2421.1 311.4L2427.3 312.9L2433.4 314.5L2439.5 316.1L2445.7 317.8L2451.8 319.5L2457.9 321.3L2464 323.1L2470.2 325L2476.3 326.9L2482.4 328.9L2488.6 331L2494.7 333.2L2500.8 335.4L2507 337.8L2513.1 340.2L2519.2 342.7L2525.4 345.4L2531.5 348.1L2537.6 351L2543.7 354L2549.9 357.2L2556 360.5L2562.1 364L2568.3 367.7L2574.4 371.6L2580.5 375.8L2586.7 380.2L2592.8 385L2598.9 390.1L2605.1 395.6L2611.2 401.6L2617.3 408.2L2621.5 413.1L2625.5 418L2629.1 422.9L2632.6 427.8L2635.8 432.7L2638.8 437.6L2641.5 442.5L2644.2 447.4L2646.6 452.4L2648.9 457.3L2651 462.2L2653 467.1L2654.8 472.1L2656.6 477L2658.2 482L2659.7 486.9L2661.1 491.8L2662.4 496.8L2663.7 501.7L2664.8 506.7L2665.9 511.6L2666.9 516.6L2667.8 521.5L2668.7 526.4L2669.5 531.4L2670.3 536.3L2671 541.3L2671.7 546.2L2672.3 551.2L2672.9 556.2L2673.4 561.1L2673.9 566.1L2674.4 571L2674.9 576L2675.3 580.9L2675.7 585.9L2676 590.8L2676.4 595.8L2676.7 600.7" fill="none" stroke="#ed1c24" stroke-width="3.4" stroke-linejoin="round"/>
<path d="M2685.6 600.6L2685.9 595.7L2686.3 590.7L2686.6 585.7L2687 580.8L2687.4 575.8L2687.9 570.8L2688.4 565.8L2688.9 560.9L2689.4 555.9L2690 550.9L2690.6 546L2691.3 541L2692 536L2692.8 531.1L2693.6 526.1L2694.5 521.1L2695.4 516.1L2696.4 511.2L2697.5 506.2L2698.6 501.2L2699.9 496.2L2701.2 491.2L2702.6 486.3L2704.1 481.3L2705.7 476.3L2707.5 471.3L2709.3 466.3L2711.3 461.3L2713.4 456.3L2715.7 451.3L2718.1 446.3L2720.8 441.3L2723.5 436.3L2726.5 431.3L2729.7 426.2L2733.2 421.2L2736.8 416.2L2740.8 411.1L2745 406.1L2751.1 399.3L2757.2 393L2763.4 387.2L2769.5 381.8L2775.6 376.8L2781.8 372L2787.9 367.6L2794 363.3L2800.2 359.3L2806.3 355.5L2812.4 351.8L2818.6 348.3L2824.7 344.9L2830.8 341.7L2836.9 338.6L2843.1 335.6L2849.2 332.7L2855.3 329.8L2861.5 327.1L2867.6 324.5L2873.7 321.9L2879.9 319.5L2886 317.1L2892.1 314.7L2898.3 312.4L2904.4 310.2L2910.5 308.1L2916.6 305.9L2922.8 303.9L2928.9 301.9L2935 299.9L2941.2 298L2947.3 296.1L2953.4 294.3L2959.6 292.5L2965.7 290.8L2971.8 289.1L2978 287.4L2984.1 285.8L2990.2 284.2L2996.3 282.6L3002.5 281.1L3008.6 279.6L3014.7 278.1L3020.9 276.7L3027 275.3L3033.1 273.9L3039.3 272.6L3045.4 271.3L3051.5 270L3057.7 268.8L3063.8 267.5L3069.9 266.3L3076 265.2L3082.2 264.1L3088.3 262.9L3094.4 261.9L3100.6 260.8L3106.7 259.8" fill="none" stroke="#ed1c24" stroke-width="3.4" stroke-linejoin="round"/>
<path d="M2255.6 378.2L2261.7 379.2L2267.9 380.2L2274 381.1L2280.1 382.1L2286.3 383.2L2292.4 384.2L2298.5 385.2L2304.6 386.3L2310.8 387.4L2316.9 388.5L2323 389.6L2329.2 390.8L2335.3 392L2341.4 393.2L2347.6 394.4L2353.7 395.6L2359.8 396.9L2366 398.2L2372.1 399.5L2378.2 400.9L2384.3 402.3L2390.5 403.7L2396.6 405.1L2402.7 406.6L2408.9 408.1L2415 409.7L2421.1 411.3L2427.3 412.9L2433.4 414.6L2439.5 416.3L2445.7 418.1L2451.8 419.9L2457.9 421.8L2464 423.7L2470.2 425.7L2476.3 427.7L2482.4 429.8L2488.6 432L2494.7 434.2L2500.8 436.6L2507 439L2513.1 441.5L2519.2 444.1L2525.4 446.8L2531.5 449.6L2537.6 452.6L2543.7 455.6L2549.9 458.9L2556 462.2L2562.1 465.8L2568.3 469.5L2574.4 473.5L2580.5 477.7L2586.7 482.2L2592.8 487L2598.9 492.1L2605.1 497.6L2611.2 503.7L2617.3 510.2L2621.6 515.3L2625.7 520.3L2629.4 525.3L2632.9 530.4L2636.2 535.4L2639.2 540.5L2642.1 545.5L2644.7 550.6L2647.2 555.6L2649.5 560.7L2651.6 565.8L2653.6 570.8L2655.5 575.9L2657.2 581L2658.8 586.1L2660.4 591.1L2661.8 596.2L2663.1 601.3L2664.3 606.4L2665.4 611.4L2666.5 616.5L2667.5 621.6L2668.4 626.7L2669.3 631.8L2670.1 636.9L2670.8 642L2671.5 647L2672.2 652.1L2672.8 657.2L2673.4 662.3L2673.9 667.4L2674.4 672.5L2674.8 677.6L2675.3 682.7L2675.7 687.8L2676 692.9L2676.4 698L2676.7 703.1L2677 708.1" fill="none" stroke="#111111" stroke-width="3.6" stroke-linejoin="round"/>
<path d="M2685.3 708L2685.6 702.9L2685.9 697.8L2686.3 692.7L2686.6 687.6L2687 682.5L2687.5 677.4L2687.9 672.3L2688.4 667.2L2688.9 662.1L2689.5 657L2690.1 651.9L2690.8 646.7L2691.5 641.6L2692.2 636.5L2693 631.4L2693.9 626.3L2694.8 621.2L2695.8 616.1L2696.9 611L2698 605.8L2699.2 600.7L2700.5 595.6L2701.9 590.5L2703.5 585.4L2705.1 580.2L2706.8 575.1L2708.7 570L2710.7 564.8L2712.8 559.7L2715.1 554.6L2717.6 549.4L2720.2 544.3L2723.1 539.2L2726.1 534L2729.4 528.9L2732.9 523.7L2736.6 518.6L2740.7 513.4L2745 508.2L2751.1 501.5L2757.2 495.3L2763.4 489.5L2769.5 484.2L2775.6 479.2L2781.8 474.6L2787.9 470.2L2794 466L2800.2 462.1L2806.3 458.3L2812.4 454.8L2818.6 451.4L2824.7 448.1L2830.8 445L2836.9 442L2843.1 439.1L2849.2 436.3L2855.3 433.6L2861.5 431L2867.6 428.5L2873.7 426L2879.9 423.6L2886 421.4L2892.1 419.1L2898.3 417L2904.4 414.8L2910.5 412.8L2916.6 410.8L2922.8 408.8L2928.9 406.9L2935 405.1L2941.2 403.2L2947.3 401.5L2953.4 399.7L2959.6 398L2965.7 396.4L2971.8 394.7L2978 393.1L2984.1 391.6L2990.2 390L2996.3 388.5L3002.5 387.1L3008.6 385.6L3014.7 384.2L3020.9 382.8L3027 381.4L3033.1 380L3039.3 378.7L3045.4 377.4L3051.5 376.1L3057.7 374.8L3063.8 373.6L3069.9 372.4L3076 371.2L3082.2 370L3088.3 368.8L3094.4 367.6L3100.6 366.5L3106.7 365.4" fill="none" stroke="#111111" stroke-width="3.6" stroke-linejoin="round"/>
</g>
<text x="2286.4" y="143.5" font-size="56.3">Symbols: Exp.</text>
<text x="2285" y="215.2" font-size="56.5">Lines: Sim.</text>
<text x="2994.8" y="143.5" font-size="66.5">(c)</text>
<text x="2807.7" y="257.9" font-size="58.5" fill="#ed1c24">ON(+Pr)</text>
<text x="2813.2" y="534.8" font-size="58.7">OFF(-Pr)</text>
<text x="2287.3" y="507.8" font-size="57.7">TER~4</text>
<path d="M2324.9 319.4V363.3" stroke="#111111" stroke-width="3.2"/>
<path d="M2324.9 301.9L2318.4 316.9L2316.4 316.9L2316.4 321.4L2333.4 321.4L2333.4 316.9L2331.4 316.9z" fill="#111111"/>
<path d="M2324.9 380.8L2331.4 365.8L2333.4 365.8L2333.4 361.3L2316.4 361.3L2316.4 365.8L2318.4 365.8z" fill="#111111"/>
</g>
<g id="panel-d">
<path d="M1202.6 954.1h12.2M2053.5 954.1h-12.2M1202.6 928.9h12.2M2053.5 928.9h-12.2M1202.6 914.2h12.2M2053.5 914.2h-12.2M1202.6 903.7h12.2M2053.5 903.7h-12.2M1202.6 979.2h24.2M2053.5 979.2h-24.2M1202.6 1037.7h12.2M2053.5 1037.7h-12.2M1202.6 1012.5h12.2M2053.5 1012.5h-12.2M1202.6 997.8h12.2M2053.5 997.8h-12.2M1202.6 987.3h12.2M2053.5 987.3h-12.2M1202.6 1062.9h24.2M2053.5 1062.9h-24.2M1202.6 1121.3h12.2M2053.5 1121.3h-12.2M1202.6 1096.2h12.2M2053.5 1096.2h-12.2M1202.6 1081.4h12.2M2053.5 1081.4h-12.2M1202.6 1071h12.2M2053.5 1071h-12.2M1202.6 1146.5h24.2M2053.5 1146.5h-24.2M1202.6 1205h12.2M2053.5 1205h-12.2M1202.6 1179.8h12.2M2053.5 1179.8h-12.2M1202.6 1165.1h12.2M2053.5 1165.1h-12.2M1202.6 1154.6h12.2M2053.5 1154.6h-12.2M1202.6 1230.2h24.2M2053.5 1230.2h-24.2M1202.6 1288.6h12.2M2053.5 1288.6h-12.2M1202.6 1263.4h12.2M2053.5 1263.4h-12.2M1202.6 1248.7h12.2M2053.5 1248.7h-12.2M1202.6 1238.3h12.2M2053.5 1238.3h-12.2M1202.6 1313.8h24.2M2053.5 1313.8h-24.2M1202.6 1372.2h12.2M2053.5 1372.2h-12.2M1202.6 1347.1h12.2M2053.5 1347.1h-12.2M1202.6 1332.3h12.2M2053.5 1332.3h-12.2M1202.6 1321.9h12.2M2053.5 1321.9h-12.2M1202.6 1397.4h24.2M2053.5 1397.4h-24.2M1202.6 1455.9h12.2M2053.5 1455.9h-12.2M1202.6 1430.7h12.2M2053.5 1430.7h-12.2M1202.6 1416h12.2M2053.5 1416h-12.2M1202.6 1405.5h12.2M2053.5 1405.5h-12.2M1202.6 1481.1h24.2M2053.5 1481.1h-24.2M1202.6 1539.5h12.2M2053.5 1539.5h-12.2M1202.6 1514.3h12.2M2053.5 1514.3h-12.2M1202.6 1499.6h12.2M2053.5 1499.6h-12.2M1202.6 1489.2h12.2M2053.5 1489.2h-12.2M1309 895.6v9.6M1309 1564.7v-9.6M1415.3 895.6v22M1415.3 1564.7v-22M1521.7 895.6v9.6M1521.7 1564.7v-9.6M1628 895.6v22M1628 1564.7v-22M1734.4 895.6v9.6M1734.4 1564.7v-9.6M1840.8 895.6v22M1840.8 1564.7v-22M1947.1 895.6v9.6M1947.1 1564.7v-9.6" stroke="#111111" stroke-width="4.6" fill="none"/>
<text x="1190" y="913.6" font-size="53" text-anchor="end">10<tspan font-size="37.5" dy="-24">-1</tspan></text>
<text x="1190" y="1080.9" font-size="53" text-anchor="end">10<tspan font-size="37.5" dy="-24">-3</tspan></text>
<text x="1190" y="1248.2" font-size="53" text-anchor="end">10<tspan font-size="37.5" dy="-24">-5</tspan></text>
<text x="1190" y="1415.4" font-size="53" text-anchor="end">10<tspan font-size="37.5" dy="-24">-7</tspan></text>
<text x="1190" y="1582.7" font-size="53" text-anchor="end">10<tspan font-size="37.5" dy="-24">-9</tspan></text>
<text x="1202.6" y="1618" font-size="54" text-anchor="middle">-0.2</text>
<text x="1415.3" y="1618" font-size="54" text-anchor="middle">-0.1</text>
<text x="1626.5" y="1618" font-size="54" text-anchor="middle">0.0</text>
<text x="1839.3" y="1618" font-size="54" text-anchor="middle">0.1</text>
<text x="2052" y="1618" font-size="54" text-anchor="middle">0.2</text>
<text x="1628" y="1682.5" font-size="67" text-anchor="middle">Voltage (V)</text>
<text transform="translate(1090.4 1204.7) rotate(-90)" font-size="68.8" text-anchor="middle">Current (A/cm<tspan font-size="46" dy="-25.5">2</tspan><tspan dy="25.5">)</tspan></text>
<rect x="1202.6" y="895.6" width="850.9" height="669.1" fill="none" stroke="#111111" stroke-width="4.8"/>
<g clip-path="url(#cd)">
<path d="M1202.6 1385.7L1208.7 1386.8L1214.9 1387.9L1221 1389L1227.1 1390.1L1233.2 1391.2L1239.4 1392.3L1245.5 1393.5L1251.6 1394.6L1257.8 1395.8L1263.9 1397L1270 1398.2L1276.2 1399.4L1282.3 1400.6L1288.4 1401.8L1294.5 1403.1L1300.7 1404.3L1306.8 1405.6L1312.9 1406.9L1319.1 1408.2L1325.2 1409.5L1331.3 1410.8L1337.4 1412.2L1343.6 1413.5L1349.7 1414.9L1355.8 1416.3L1362 1417.7L1368.1 1419.2L1374.2 1420.6L1380.4 1422.1L1386.5 1423.6L1392.6 1425.1L1398.7 1426.7L1404.9 1428.2L1411 1429.8L1417.1 1431.4L1423.3 1433.1L1429.4 1434.8L1435.5 1436.5L1441.6 1438.2L1447.8 1440L1453.9 1441.9L1460 1443.7L1466.2 1445.6L1472.3 1447.6L1478.4 1449.6L1484.6 1451.7L1490.7 1453.9L1496.8 1456.1L1502.9 1458.4L1509.1 1460.7L1515.2 1463.2L1521.3 1465.8L1527.5 1468.4L1533.6 1471.3L1539.7 1474.2L1545.8 1477.3L1552 1480.7L1558.1 1484.2L1564.2 1488L1569.6 1491.6L1574.4 1495.2L1578.9 1498.7L1583 1502.1L1586.8 1505.6L1590.2 1509L1593.4 1512.4L1596.3 1515.7L1598.9 1519.1L1601.4 1522.4L1603.6 1525.7L1605.6 1529L1607.5 1532.3L1609.2 1535.6L1610.8 1538.8L1612.2 1542.1L1613.6 1545.3L1614.8 1548.6L1615.9 1551.8L1616.9 1555L1617.8 1558.3L1618.7 1561.5L1619.5 1564.7L1620.2 1567.9L1620.8 1571.1L1621.4 1574.3L1622 1577.5L1622.5 1580.7L1623 1583.9L1623.4 1587.1L1623.8 1590.3L1624.1 1593.5L1624.5 1596.6L1624.8 1599.8L1625 1603L1625.3 1606.2L1625.5 1609.4L1625.7 1612.6L1625.9 1615.7" fill="none" stroke="#111111" stroke-width="3.4" stroke-dasharray="24 19.5" stroke-dashoffset="10" stroke-linejoin="round"/>
<path d="M1630.2 1616L1630.4 1612.8L1630.6 1609.6L1630.8 1606.5L1631.1 1603.3L1631.3 1600.2L1631.6 1597L1632 1593.9L1632.3 1590.7L1632.7 1587.6L1633.1 1584.4L1633.6 1581.3L1634.1 1578.1L1634.7 1575L1635.3 1571.9L1635.9 1568.7L1636.6 1565.6L1637.4 1562.5L1638.3 1559.4L1639.2 1556.2L1640.2 1553.1L1641.3 1550L1642.5 1546.9L1643.9 1543.8L1645.3 1540.7L1646.9 1537.6L1648.6 1534.5L1650.5 1531.4L1652.5 1528.3L1654.7 1525.2L1657.2 1522.2L1659.8 1519.1L1662.7 1516L1665.9 1513L1669.3 1509.9L1673.1 1506.9L1677.2 1503.8L1681.7 1500.8L1686.5 1497.8L1691.9 1494.7L1698 1491.5L1704.1 1488.6L1710.3 1485.8L1716.4 1483.3L1722.5 1480.9L1728.6 1478.6L1734.8 1476.5L1740.9 1474.5L1747 1472.5L1753.2 1470.6L1759.3 1468.8L1765.4 1467.1L1771.5 1465.4L1777.7 1463.7L1783.8 1462.1L1789.9 1460.5L1796.1 1459L1802.2 1457.5L1808.3 1456L1814.5 1454.5L1820.6 1453.1L1826.7 1451.6L1832.8 1450.2L1839 1448.8L1845.1 1447.4L1851.2 1446.1L1857.4 1444.7L1863.5 1443.3L1869.6 1441.9L1875.7 1440.6L1881.9 1439.2L1888 1437.9L1894.1 1436.5L1900.3 1435.2L1906.4 1433.8L1912.5 1432.5L1918.7 1431.1L1924.8 1429.8L1930.9 1428.4L1937 1427.1L1943.2 1425.8L1949.3 1424.4L1955.4 1423.1L1961.6 1421.8L1967.7 1420.5L1973.8 1419.2L1979.9 1417.9L1986.1 1416.6L1992.2 1415.3L1998.3 1414L2004.5 1412.7L2010.6 1411.5L2016.7 1410.2L2022.9 1409L2029 1407.7L2035.1 1406.5L2041.2 1405.3L2047.4 1404.1L2053.5 1402.9" fill="none" stroke="#111111" stroke-width="3.4" stroke-dasharray="24 19.5" stroke-dashoffset="34" stroke-linejoin="round"/>
<path d="M1202.6 1252.2L1208.7 1252.3L1214.9 1252.4L1221 1252.5L1227.1 1252.7L1233.2 1252.9L1239.4 1253.1L1245.5 1253.3L1251.6 1253.6L1257.8 1253.9L1263.9 1254.2L1270 1254.5L1276.2 1254.9L1282.3 1255.3L1288.4 1255.6L1294.5 1256.1L1300.7 1256.5L1306.8 1256.9L1312.9 1257.4L1319.1 1257.9L1325.2 1258.4L1331.3 1258.9L1337.4 1259.4L1343.6 1259.9L1349.7 1260.5L1355.8 1261L1362 1261.6L1368.1 1262.2L1374.2 1262.8L1380.4 1263.4L1386.5 1264L1392.6 1264.6L1398.7 1265.3L1404.9 1266L1411 1266.6L1417.1 1267.4L1423.3 1268.1L1429.4 1268.9L1435.5 1269.6L1441.6 1270.5L1447.8 1271.3L1453.9 1272.2L1460 1273.2L1466.2 1274.2L1472.3 1275.2L1478.4 1276.4L1484.6 1277.5L1490.7 1278.8L1496.8 1280.1L1502.9 1281.5L1509.1 1283L1515.2 1284.7L1521.3 1286.4L1527.5 1288.2L1533.6 1290.2L1539.7 1292.4L1545.8 1294.8L1552 1297.3L1558.1 1300.2L1564.2 1303.3L1568.7 1305.7L1572.8 1308.2L1576.7 1310.7L1580.2 1313.2L1583.6 1315.7L1586.7 1318.3L1589.5 1320.8L1592.2 1323.3L1594.7 1325.9L1597 1328.5L1599.2 1331L1601.2 1333.6L1603.1 1336.2L1604.8 1338.8L1606.4 1341.3L1607.9 1343.9L1609.3 1346.5L1610.6 1349.1L1611.8 1351.7L1613 1354.3L1614 1356.9L1615 1359.5L1615.9 1362.1L1616.8 1364.7L1617.5 1367.3L1618.3 1369.9L1618.9 1372.5L1619.6 1375.1L1620.2 1377.7L1620.7 1380.3L1621.2 1382.9L1621.7 1385.5L1622.1 1388.1L1622.6 1390.7L1622.9 1393.4L1623.3 1396L1623.6 1398.6L1623.9 1401.2L1624.2 1403.8" fill="none" stroke="#e5304a" stroke-width="3.8" stroke-dasharray="22 21" stroke-dashoffset="6" stroke-linejoin="round"/>
<path d="M1631.9 1403.6L1632.2 1401L1632.5 1398.4L1632.8 1395.7L1633.2 1393.1L1633.5 1390.5L1634 1387.9L1634.4 1385.2L1634.9 1382.6L1635.4 1380L1635.9 1377.3L1636.5 1374.7L1637.2 1372.1L1637.8 1369.4L1638.6 1366.8L1639.3 1364.1L1640.2 1361.5L1641.1 1358.8L1642.1 1356.2L1643.1 1353.6L1644.3 1350.9L1645.5 1348.3L1646.8 1345.6L1648.2 1342.9L1649.7 1340.3L1651.3 1337.6L1653 1335L1654.9 1332.3L1656.9 1329.6L1659.1 1326.9L1661.4 1324.2L1663.9 1321.5L1666.6 1318.8L1669.4 1316.1L1672.5 1313.4L1675.9 1310.7L1679.4 1308L1683.3 1305.2L1687.4 1302.5L1691.9 1299.8L1698 1296.2L1704.1 1293L1710.3 1290.1L1716.4 1287.3L1722.5 1284.7L1728.6 1282.3L1734.8 1280.1L1740.9 1277.9L1747 1275.9L1753.2 1274L1759.3 1272.2L1765.4 1270.5L1771.5 1268.8L1777.7 1267.3L1783.8 1265.7L1789.9 1264.3L1796.1 1262.9L1802.2 1261.5L1808.3 1260.2L1814.5 1258.9L1820.6 1257.7L1826.7 1256.5L1832.8 1255.3L1839 1254.1L1845.1 1253L1851.2 1251.9L1857.4 1250.8L1863.5 1249.8L1869.6 1248.8L1875.7 1247.7L1881.9 1246.7L1888 1245.8L1894.1 1244.8L1900.3 1243.9L1906.4 1242.9L1912.5 1242L1918.7 1241.1L1924.8 1240.2L1930.9 1239.3L1937 1238.4L1943.2 1237.5L1949.3 1236.7L1955.4 1235.8L1961.6 1235L1967.7 1234.1L1973.8 1233.3L1979.9 1232.5L1986.1 1231.6L1992.2 1230.8L1998.3 1230L2004.5 1229.2L2010.6 1228.4L2016.7 1227.6L2022.9 1226.7L2029 1225.9L2035.1 1225.1L2041.2 1224.3L2047.4 1223.5L2053.5 1222.7" fill="none" stroke="#e5304a" stroke-width="3.8" stroke-dasharray="22 21" stroke-dashoffset="12" stroke-linejoin="round"/>
<path d="M1202.6 1254.3L1208.7 1254.6L1214.9 1254.8L1221 1255L1227.1 1255.3L1233.2 1255.5L1239.4 1255.8L1245.5 1256.1L1251.6 1256.4L1257.8 1256.6L1263.9 1257L1270 1257.3L1276.2 1257.6L1282.3 1257.9L1288.4 1258.3L1294.5 1258.6L1300.7 1259L1306.8 1259.4L1312.9 1259.8L1319.1 1260.2L1325.2 1260.7L1331.3 1261.1L1337.4 1261.6L1343.6 1262L1349.7 1262.5L1355.8 1263L1362 1263.6L1368.1 1264.1L1374.2 1264.7L1380.4 1265.3L1386.5 1265.9L1392.6 1266.6L1398.7 1267.2L1404.9 1267.9L1411 1268.6L1417.1 1269.4L1423.3 1270.1L1429.4 1271L1435.5 1271.8L1441.6 1272.7L1447.8 1273.6L1453.9 1274.6L1460 1275.6L1466.2 1276.6L1472.3 1277.7L1478.4 1278.9L1484.6 1280.1L1490.7 1281.4L1496.8 1282.8L1502.9 1284.2L1509.1 1285.8L1515.2 1287.4L1521.3 1289.1L1527.5 1291L1533.6 1293L1539.7 1295.1L1545.8 1297.4L1552 1300L1558.1 1302.8L1564.2 1305.8L1568.7 1308.2L1572.8 1310.7L1576.7 1313.1L1580.2 1315.6L1583.6 1318.1L1586.7 1320.6L1589.5 1323.1L1592.2 1325.6L1594.7 1328.1L1597 1330.6L1599.2 1333.2L1601.2 1335.7L1603.1 1338.2L1604.8 1340.8L1606.4 1343.3L1607.9 1345.9L1609.3 1348.4L1610.6 1351L1611.8 1353.6L1613 1356.1L1614 1358.7L1615 1361.3L1615.9 1363.8L1616.8 1366.4L1617.5 1369L1618.3 1371.6L1618.9 1374.2L1619.6 1376.7L1620.2 1379.3L1620.7 1381.9L1621.2 1384.5L1621.7 1387.1L1622.1 1389.7L1622.6 1392.3L1622.9 1394.9L1623.3 1397.5L1623.6 1400.1L1623.9 1402.7L1624.2 1405.3" fill="none" stroke="#e5304a" stroke-width="4.1" stroke-linejoin="round"/>
<path d="M1631.9 1404.8L1632.2 1402.2L1632.5 1399.5L1632.8 1396.9L1633.2 1394.2L1633.5 1391.6L1634 1388.9L1634.4 1386.3L1634.9 1383.6L1635.4 1381L1635.9 1378.3L1636.5 1375.6L1637.2 1373L1637.8 1370.3L1638.6 1367.6L1639.3 1364.9L1640.2 1362.2L1641.1 1359.6L1642.1 1356.9L1643.1 1354.1L1644.3 1351.4L1645.5 1348.7L1646.8 1346L1648.2 1343.2L1649.7 1340.5L1651.3 1337.7L1653 1334.9L1654.9 1332.2L1656.9 1329.3L1659.1 1326.5L1661.4 1323.7L1663.9 1320.8L1666.6 1317.9L1669.4 1315L1672.5 1312.1L1675.9 1309.2L1679.4 1306.2L1683.3 1303.2L1687.4 1300.2L1691.9 1297.1L1698 1293.2L1704.1 1289.6L1710.3 1286.3L1716.4 1283.2L1722.5 1280.3L1728.6 1277.6L1734.8 1275.1L1740.9 1272.7L1747 1270.5L1753.2 1268.4L1759.3 1266.4L1765.4 1264.5L1771.5 1262.7L1777.7 1260.9L1783.8 1259.3L1789.9 1257.6L1796.1 1256.1L1802.2 1254.6L1808.3 1253.1L1814.5 1251.6L1820.6 1250.2L1826.7 1248.8L1832.8 1247.4L1839 1246.1L1845.1 1244.8L1851.2 1243.5L1857.4 1242.2L1863.5 1240.9L1869.6 1239.7L1875.7 1238.5L1881.9 1237.3L1888 1236.1L1894.1 1234.9L1900.3 1233.7L1906.4 1232.6L1912.5 1231.5L1918.7 1230.4L1924.8 1229.2L1930.9 1228.2L1937 1227.1L1943.2 1226L1949.3 1224.9L1955.4 1223.9L1961.6 1222.9L1967.7 1221.8L1973.8 1220.8L1979.9 1219.8L1986.1 1218.8L1992.2 1217.8L1998.3 1216.9L2004.5 1215.9L2010.6 1215L2016.7 1214L2022.9 1213.1L2029 1212.2L2035.1 1211.2L2041.2 1210.3L2047.4 1209.5L2053.5 1208.6" fill="none" stroke="#e5304a" stroke-width="4.1" stroke-linejoin="round"/>
<path d="M1202.6 1085.6L1208.7 1086.1L1214.9 1086.6L1221 1087L1227.1 1087.5L1233.2 1088L1239.4 1088.6L1245.5 1089.1L1251.6 1089.7L1257.8 1090.2L1263.9 1090.8L1270 1091.4L1276.2 1092L1282.3 1092.6L1288.4 1093.3L1294.5 1093.9L1300.7 1094.6L1306.8 1095.3L1312.9 1096L1319.1 1096.7L1325.2 1097.4L1331.3 1098.2L1337.4 1099L1343.6 1099.7L1349.7 1100.5L1355.8 1101.4L1362 1102.2L1368.1 1103.1L1374.2 1103.9L1380.4 1104.8L1386.5 1105.7L1392.6 1106.7L1398.7 1107.7L1404.9 1108.6L1411 1109.7L1417.1 1110.7L1423.3 1111.8L1429.4 1112.9L1435.5 1114L1441.6 1115.2L1447.8 1116.4L1453.9 1117.6L1460 1118.9L1466.2 1120.2L1472.3 1121.6L1478.4 1123L1484.6 1124.5L1490.7 1126L1496.8 1127.6L1502.9 1129.3L1509.1 1131.1L1515.2 1132.9L1521.3 1134.9L1527.5 1136.9L1533.6 1139.1L1539.7 1141.5L1545.8 1144L1552 1146.7L1558.1 1149.6L1564.2 1152.8L1568.4 1155.2L1572.4 1157.6L1576 1159.9L1579.5 1162.3L1582.7 1164.7L1585.7 1167.1L1588.5 1169.5L1591.1 1171.9L1593.5 1174.3L1595.8 1176.7L1597.9 1179.1L1599.9 1181.6L1601.7 1184L1603.5 1186.4L1605.1 1188.8L1606.6 1191.2L1608 1193.7L1609.3 1196.1L1610.6 1198.5L1611.7 1201L1612.8 1203.4L1613.8 1205.9L1614.8 1208.3L1615.6 1210.8L1616.4 1213.2L1617.2 1215.7L1617.9 1218.1L1618.6 1220.6L1619.2 1223L1619.8 1225.5L1620.3 1227.9L1620.9 1230.4L1621.3 1232.9L1621.8 1235.3L1622.2 1237.8L1622.6 1240.2L1622.9 1242.7L1623.3 1245.2L1623.6 1247.6" fill="none" stroke="#111111" stroke-width="4.3" stroke-linejoin="round"/>
<path d="M1632.5 1247.3L1632.8 1244.8L1633.2 1242.3L1633.5 1239.8L1633.9 1237.3L1634.3 1234.9L1634.8 1232.4L1635.2 1229.9L1635.8 1227.4L1636.3 1224.9L1636.9 1222.4L1637.5 1219.9L1638.2 1217.4L1638.9 1214.9L1639.7 1212.4L1640.5 1209.8L1641.3 1207.3L1642.3 1204.8L1643.3 1202.3L1644.4 1199.8L1645.5 1197.3L1646.8 1194.7L1648.1 1192.2L1649.5 1189.7L1651 1187.1L1652.6 1184.6L1654.4 1182.1L1656.2 1179.5L1658.2 1176.9L1660.3 1174.4L1662.6 1171.8L1665 1169.2L1667.6 1166.7L1670.4 1164.1L1673.4 1161.5L1676.6 1158.8L1680.1 1156.2L1683.7 1153.6L1687.7 1151L1691.9 1148.3L1698 1144.7L1704.1 1141.4L1710.3 1138.3L1716.4 1135.4L1722.5 1132.7L1728.6 1130.2L1734.8 1127.8L1740.9 1125.5L1747 1123.3L1753.2 1121.3L1759.3 1119.3L1765.4 1117.4L1771.5 1115.5L1777.7 1113.8L1783.8 1112L1789.9 1110.4L1796.1 1108.8L1802.2 1107.3L1808.3 1105.8L1814.5 1104.3L1820.6 1102.9L1826.7 1101.5L1832.8 1100.2L1839 1098.9L1845.1 1097.6L1851.2 1096.4L1857.4 1095.2L1863.5 1094L1869.6 1092.9L1875.7 1091.7L1881.9 1090.6L1888 1089.6L1894.1 1088.5L1900.3 1087.5L1906.4 1086.5L1912.5 1085.5L1918.7 1084.5L1924.8 1083.6L1930.9 1082.7L1937 1081.8L1943.2 1080.9L1949.3 1080L1955.4 1079.2L1961.6 1078.3L1967.7 1077.5L1973.8 1076.7L1979.9 1075.9L1986.1 1075.1L1992.2 1074.4L1998.3 1073.7L2004.5 1072.9L2010.6 1072.2L2016.7 1071.5L2022.9 1070.8L2029 1070.2L2035.1 1069.5L2041.2 1068.9L2047.4 1068.3L2053.5 1067.6" fill="none" stroke="#111111" stroke-width="4.3" stroke-linejoin="round"/>
</g>
<text x="1230.6" y="966.4" font-size="56.5">Solid: ON (+Pr)</text>
<text x="1229.8" y="1037.8" font-size="56.5">Dash: OFF (-Pr)</text>
<text x="1943.2" y="974.9" font-size="67.5">(d)</text>
<text x="1265.5" y="1230" font-size="58">TER<tspan font-size="39" dy="16.4" dx="2">CBE</tspan><tspan dy="-16.4" dx="1.5">~10</tspan><tspan font-size="39" dy="-24.2" dx="-3">4</tspan></text>
<text x="1267.5" y="1357.3" font-size="58" fill="#e5304a">TER<tspan font-size="39" dy="15" dx="1.5">VBE</tspan><tspan dy="-15" dx="0">~1</tspan></text>
<text x="1864.4" y="1153.7" font-size="58">J<tspan font-size="39.5" dy="14.5" dx="3">CBE</tspan></text>
<text x="1868.5" y="1306.2" font-size="58" fill="#e5304a">J<tspan font-size="39.5" dy="17" dx="1.5">VBE</tspan></text>
<path d="M1261 1105.5V1372.3" stroke="#111111" stroke-width="4.3"/>
<path d="M1261 1090L1254.7 1103.5L1252.7 1103.5L1252.7 1107.5L1269.3 1107.5L1269.3 1103.5L1267.3 1103.5z" fill="#111111"/>
<path d="M1261 1387.8L1267.3 1374.3L1269.3 1374.3L1269.3 1370.3L1252.7 1370.3L1252.7 1374.3L1254.7 1374.3z" fill="#111111"/>
</g>
<g id="panel-e">
<path d="M2255.6 929.1h12.2M3106.7 929.1h-12.2M2255.6 962.5h12.2M3106.7 962.5h-12.2M2255.6 996h12.2M3106.7 996h-12.2M2255.6 1029.4h12.2M3106.7 1029.4h-12.2M2255.6 1062.9h24.2M3106.7 1062.9h-24.2M2255.6 1096.3h12.2M3106.7 1096.3h-12.2M2255.6 1129.8h12.2M3106.7 1129.8h-12.2M2255.6 1163.2h12.2M3106.7 1163.2h-12.2M2255.6 1196.7h12.2M3106.7 1196.7h-12.2M2255.6 1230.2h24.2M3106.7 1230.2h-24.2M2255.6 1263.6h12.2M3106.7 1263.6h-12.2M2255.6 1297.1h12.2M3106.7 1297.1h-12.2M2255.6 1330.5h12.2M3106.7 1330.5h-12.2M2255.6 1364h12.2M3106.7 1364h-12.2M2255.6 1397.4h24.2M3106.7 1397.4h-24.2M2255.6 1430.9h12.2M3106.7 1430.9h-12.2M2255.6 1464.3h12.2M3106.7 1464.3h-12.2M2255.6 1497.8h12.2M3106.7 1497.8h-12.2M2255.6 1531.2h12.2M3106.7 1531.2h-12.2M2362 895.6v9.6M2362 1564.7v-9.6M2468.4 895.6v22M2468.4 1564.7v-22M2574.8 895.6v9.6M2574.8 1564.7v-9.6M2681.1 895.6v22M2681.1 1564.7v-22M2787.5 895.6v9.6M2787.5 1564.7v-9.6M2893.9 895.6v22M2893.9 1564.7v-22M3000.3 895.6v9.6M3000.3 1564.7v-9.6" stroke="#111111" stroke-width="4.6" fill="none"/>
<text x="2248.5" y="913.6" font-size="53" text-anchor="end">10<tspan font-size="37.5" dy="-24">5</tspan></text>
<text x="2248.5" y="1080.9" font-size="53" text-anchor="end">10<tspan font-size="37.5" dy="-24">0</tspan></text>
<text x="2248.5" y="1248.2" font-size="53" text-anchor="end">10<tspan font-size="37.5" dy="-24">-5</tspan></text>
<text x="2248.5" y="1415.4" font-size="53" text-anchor="end">10<tspan font-size="37.5" dy="-24">-10</tspan></text>
<text x="2248.5" y="1582.7" font-size="53" text-anchor="end">10<tspan font-size="37.5" dy="-24">-15</tspan></text>
<text x="2255.6" y="1618" font-size="54" text-anchor="middle">-0.2</text>
<text x="2468.4" y="1618" font-size="54" text-anchor="middle">-0.1</text>
<text x="2679.6" y="1618" font-size="54" text-anchor="middle">0.0</text>
<text x="2892.4" y="1618" font-size="54" text-anchor="middle">0.1</text>
<text x="3105.2" y="1618" font-size="54" text-anchor="middle">0.2</text>
<text x="2681.1" y="1682.5" font-size="67" text-anchor="middle">Voltage (V)</text>
<text transform="translate(2140.4 1204.7) rotate(-90)" font-size="68.8" text-anchor="middle">Current (A/cm<tspan font-size="46" dy="-25.5">2</tspan><tspan dy="25.5">)</tspan></text>
<rect x="2255.6" y="895.6" width="851.1" height="669.1" fill="none" stroke="#111111" stroke-width="4.8"/>
<g clip-path="url(#ce)">
<path d="M2255.6 1525.5L2261.7 1526.2L2267.9 1526.9L2274 1527.6L2280.1 1528.3L2286.3 1529L2292.4 1529.7L2298.5 1530.3L2304.6 1531L2310.8 1531.7L2316.9 1532.4L2323 1533L2329.2 1533.7L2335.3 1534.4L2341.4 1535L2347.6 1535.7L2353.7 1536.3L2359.8 1537L2366 1537.7L2372.1 1538.3L2378.2 1539L2384.3 1539.6L2390.5 1540.3L2396.6 1541L2402.7 1541.6L2408.9 1542.3L2415 1542.9L2421.1 1543.6L2427.3 1544.3L2433.4 1545L2439.5 1545.6L2445.7 1546.3L2451.8 1547L2457.9 1547.7L2464 1548.4L2470.2 1549.1L2476.3 1549.8L2482.4 1550.6L2488.6 1551.3L2494.7 1552.1L2500.8 1552.8L2507 1553.6L2513.1 1554.4L2519.2 1555.2L2525.4 1556L2531.5 1556.8L2537.6 1557.7L2543.7 1558.5L2549.9 1559.4L2556 1560.3L2562.1 1561.2L2568.3 1562.2L2574.4 1563.1L2580.5 1564.2L2586.7 1565.2L2592.8 1566.3L2598.9 1567.5L2605.1 1568.7L2611.2 1570L2617.3 1571.3L2621.5 1572.3L2625.3 1573.3L2628.9 1574.3L2632.3 1575.3L2635.5 1576.2L2638.4 1577.2L2641.2 1578.2L2643.8 1579.1L2646.2 1580.1L2648.5 1581L2650.6 1582L2652.6 1582.9L2654.4 1583.9L2656.2 1584.8L2657.8 1585.8L2659.3 1586.7L2660.7 1587.7L2662 1588.6L2663.3 1589.6L2664.4 1590.5L2665.5 1591.5L2666.5 1592.4L2667.5 1593.4L2668.4 1594.3L2669.2 1595.3L2670 1596.2L2670.7 1597.2L2671.4 1598.1L2672 1599.1L2672.6 1600L2673.1 1601L2673.7 1602L2674.2 1602.9L2674.6 1603.9L2675 1604.8L2675.4 1605.8L2675.8 1606.8L2676.1 1607.7L2676.5 1608.7" fill="none" stroke="#111111" stroke-width="3.4" stroke-dasharray="23 21.5" stroke-dashoffset="0" stroke-linejoin="round"/>
<path d="M2685.8 1608.4L2686.2 1607.4L2686.5 1606.4L2686.9 1605.4L2687.3 1604.4L2687.7 1603.4L2688.1 1602.5L2688.6 1601.5L2689.2 1600.5L2689.7 1599.5L2690.3 1598.5L2690.9 1597.5L2691.6 1596.5L2692.3 1595.5L2693.1 1594.5L2693.9 1593.5L2694.8 1592.4L2695.8 1591.4L2696.8 1590.4L2697.9 1589.4L2699 1588.4L2700.3 1587.3L2701.6 1586.3L2703 1585.3L2704.5 1584.2L2706.1 1583.2L2707.9 1582.1L2709.7 1581L2711.7 1579.9L2713.8 1578.8L2716.1 1577.7L2718.5 1576.6L2721.1 1575.5L2723.9 1574.3L2726.8 1573.2L2730 1572L2733.4 1570.8L2737 1569.6L2740.8 1568.3L2745 1567L2751.1 1565.2L2757.2 1563.4L2763.4 1561.8L2769.5 1560.2L2775.6 1558.6L2781.8 1557.1L2787.9 1555.6L2794 1554.1L2800.2 1552.6L2806.3 1551.2L2812.4 1549.8L2818.6 1548.4L2824.7 1547L2830.8 1545.7L2836.9 1544.4L2843.1 1543.1L2849.2 1541.9L2855.3 1540.7L2861.5 1539.5L2867.6 1538.3L2873.7 1537.1L2879.9 1536L2886 1534.8L2892.1 1533.7L2898.3 1532.6L2904.4 1531.5L2910.5 1530.4L2916.6 1529.3L2922.8 1528.3L2928.9 1527.2L2935 1526.2L2941.2 1525.1L2947.3 1524.1L2953.4 1523L2959.6 1522L2965.7 1521L2971.8 1519.9L2978 1518.9L2984.1 1517.9L2990.2 1516.8L2996.3 1515.8L3002.5 1514.8L3008.6 1513.7L3014.7 1512.7L3020.9 1511.7L3027 1510.6L3033.1 1509.6L3039.3 1508.5L3045.4 1507.5L3051.5 1506.4L3057.7 1505.3L3063.8 1504.3L3069.9 1503.2L3076 1502.1L3082.2 1501L3088.3 1499.9L3094.4 1498.8L3100.6 1497.7L3106.7 1496.5" fill="none" stroke="#111111" stroke-width="3.4" stroke-dasharray="23 21.5" stroke-dashoffset="8" stroke-linejoin="round"/>
<path d="M2255.6 1390.7L2261.7 1391.3L2267.9 1391.9L2274 1392.5L2280.1 1393.1L2286.3 1393.7L2292.4 1394.3L2298.5 1394.9L2304.6 1395.5L2310.8 1396.1L2316.9 1396.7L2323 1397.2L2329.2 1397.8L2335.3 1398.4L2341.4 1398.9L2347.6 1399.5L2353.7 1400L2359.8 1400.6L2366 1401.1L2372.1 1401.6L2378.2 1402.2L2384.3 1402.7L2390.5 1403.2L2396.6 1403.7L2402.7 1404.2L2408.9 1404.7L2415 1405.3L2421.1 1405.8L2427.3 1406.3L2433.4 1406.8L2439.5 1407.3L2445.7 1407.8L2451.8 1408.3L2457.9 1408.8L2464 1409.3L2470.2 1409.8L2476.3 1410.3L2482.4 1410.8L2488.6 1411.3L2494.7 1411.8L2500.8 1412.3L2507 1412.8L2513.1 1413.3L2519.2 1413.9L2525.4 1414.4L2531.5 1415L2537.6 1415.5L2543.7 1416.1L2549.9 1416.7L2556 1417.4L2562.1 1418L2568.3 1418.7L2574.4 1419.4L2580.5 1420.1L2586.7 1420.9L2592.8 1421.7L2598.9 1422.6L2605.1 1423.6L2611.2 1424.6L2617.3 1425.7L2621.5 1426.6L2625.3 1427.4L2628.9 1428.3L2632.3 1429.1L2635.5 1430L2638.4 1430.8L2641.2 1431.7L2643.8 1432.5L2646.2 1433.4L2648.5 1434.3L2650.6 1435.2L2652.6 1436.1L2654.4 1436.9L2656.2 1437.8L2657.8 1438.7L2659.3 1439.6L2660.7 1440.5L2662 1441.5L2663.3 1442.4L2664.4 1443.3L2665.5 1444.2L2666.5 1445.1L2667.5 1446.1L2668.4 1447L2669.2 1447.9L2670 1448.9L2670.7 1449.8L2671.4 1450.7L2672 1451.7L2672.6 1452.6L2673.1 1453.6L2673.7 1454.5L2674.2 1455.5L2674.6 1456.4L2675 1457.4L2675.4 1458.3L2675.8 1459.3L2676.1 1460.2L2676.5 1461.2" fill="none" stroke="#111111" stroke-width="3.9" stroke-linejoin="round"/>
<path d="M2685.8 1460.7L2686.2 1459.7L2686.5 1458.7L2686.9 1457.7L2687.3 1456.7L2687.7 1455.7L2688.1 1454.7L2688.6 1453.7L2689.2 1452.7L2689.7 1451.7L2690.3 1450.7L2690.9 1449.7L2691.6 1448.7L2692.3 1447.6L2693.1 1446.6L2693.9 1445.6L2694.8 1444.6L2695.8 1443.5L2696.8 1442.5L2697.9 1441.5L2699 1440.4L2700.3 1439.4L2701.6 1438.3L2703 1437.3L2704.5 1436.2L2706.1 1435.1L2707.9 1434L2709.7 1432.9L2711.7 1431.8L2713.8 1430.7L2716.1 1429.6L2718.5 1428.5L2721.1 1427.3L2723.9 1426.2L2726.8 1425L2730 1423.8L2733.4 1422.6L2737 1421.3L2740.8 1420.1L2745 1418.8L2751.1 1417L2757.2 1415.2L2763.4 1413.6L2769.5 1412.1L2775.6 1410.5L2781.8 1409.1L2787.9 1407.7L2794 1406.3L2800.2 1404.9L2806.3 1403.6L2812.4 1402.3L2818.6 1401L2824.7 1399.8L2830.8 1398.5L2836.9 1397.3L2843.1 1396.1L2849.2 1394.8L2855.3 1393.6L2861.5 1392.4L2867.6 1391.2L2873.7 1390L2879.9 1388.8L2886 1387.6L2892.1 1386.5L2898.3 1385.3L2904.4 1384.1L2910.5 1382.9L2916.6 1381.7L2922.8 1380.5L2928.9 1379.3L2935 1378.1L2941.2 1376.9L2947.3 1375.7L2953.4 1374.5L2959.6 1373.3L2965.7 1372.1L2971.8 1370.9L2978 1369.7L2984.1 1368.5L2990.2 1367.2L2996.3 1366L3002.5 1364.8L3008.6 1363.5L3014.7 1362.3L3020.9 1361L3027 1359.8L3033.1 1358.5L3039.3 1357.2L3045.4 1356L3051.5 1354.7L3057.7 1353.4L3063.8 1352.1L3069.9 1350.8L3076 1349.5L3082.2 1348.2L3088.3 1346.9L3094.4 1345.6L3100.6 1344.3L3106.7 1342.9" fill="none" stroke="#111111" stroke-width="3.9" stroke-linejoin="round"/>
<path d="M2255.6 1241.7L2261.7 1242.5L2267.9 1243.3L2274 1244.1L2280.1 1244.8L2286.3 1245.6L2292.4 1246.4L2298.5 1247.2L2304.6 1247.9L2310.8 1248.7L2316.9 1249.5L2323 1250.2L2329.2 1251L2335.3 1251.8L2341.4 1252.5L2347.6 1253.3L2353.7 1254L2359.8 1254.8L2366 1255.6L2372.1 1256.3L2378.2 1257.1L2384.3 1257.8L2390.5 1258.6L2396.6 1259.3L2402.7 1260.1L2408.9 1260.8L2415 1261.6L2421.1 1262.3L2427.3 1263.1L2433.4 1263.8L2439.5 1264.6L2445.7 1265.3L2451.8 1266.1L2457.9 1266.8L2464 1267.6L2470.2 1268.3L2476.3 1269.1L2482.4 1269.8L2488.6 1270.6L2494.7 1271.4L2500.8 1272.1L2507 1272.9L2513.1 1273.7L2519.2 1274.5L2525.4 1275.3L2531.5 1276.1L2537.6 1276.9L2543.7 1277.8L2549.9 1278.6L2556 1279.5L2562.1 1280.4L2568.3 1281.3L2574.4 1282.3L2580.5 1283.3L2586.7 1284.3L2592.8 1285.4L2598.9 1286.5L2605.1 1287.7L2611.2 1289L2617.3 1290.4L2621.5 1291.4L2625.3 1292.4L2628.9 1293.4L2632.3 1294.4L2635.5 1295.3L2638.4 1296.3L2641.2 1297.3L2643.8 1298.2L2646.2 1299.2L2648.5 1300.2L2650.6 1301.1L2652.6 1302.1L2654.4 1303.1L2656.2 1304L2657.8 1305L2659.3 1305.9L2660.7 1306.9L2662 1307.9L2663.3 1308.8L2664.4 1309.8L2665.5 1310.7L2666.5 1311.7L2667.5 1312.7L2668.4 1313.6L2669.2 1314.6L2670 1315.6L2670.7 1316.5L2671.4 1317.5L2672 1318.4L2672.6 1319.4L2673.1 1320.4L2673.7 1321.3L2674.2 1322.3L2674.6 1323.3L2675 1324.2L2675.4 1325.2L2675.8 1326.2L2676.1 1327.1L2676.5 1328.1" fill="none" stroke="#3f6bbd" stroke-width="3.9" stroke-linejoin="round"/>
<path d="M2685.8 1327.9L2686.2 1327L2686.5 1326L2686.9 1325L2687.3 1324L2687.7 1323L2688.1 1322.1L2688.6 1321.1L2689.2 1320.1L2689.7 1319.1L2690.3 1318.1L2690.9 1317.1L2691.6 1316.1L2692.3 1315.2L2693.1 1314.2L2693.9 1313.2L2694.8 1312.2L2695.8 1311.2L2696.8 1310.2L2697.9 1309.2L2699 1308.2L2700.3 1307.2L2701.6 1306.2L2703 1305.2L2704.5 1304.1L2706.1 1303.1L2707.9 1302.1L2709.7 1301.1L2711.7 1300L2713.8 1299L2716.1 1297.9L2718.5 1296.9L2721.1 1295.8L2723.9 1294.8L2726.8 1293.7L2730 1292.6L2733.4 1291.5L2737 1290.4L2740.8 1289.2L2745 1288.1L2751.1 1286.5L2757.2 1285L2763.4 1283.5L2769.5 1282.2L2775.6 1280.9L2781.8 1279.7L2787.9 1278.5L2794 1277.3L2800.2 1276.2L2806.3 1275.1L2812.4 1274.1L2818.6 1273.1L2824.7 1272.1L2830.8 1271.2L2836.9 1270.2L2843.1 1269.3L2849.2 1268.4L2855.3 1267.6L2861.5 1266.7L2867.6 1265.9L2873.7 1265.1L2879.9 1264.3L2886 1263.6L2892.1 1262.8L2898.3 1262.1L2904.4 1261.4L2910.5 1260.7L2916.6 1260L2922.8 1259.3L2928.9 1258.6L2935 1258L2941.2 1257.3L2947.3 1256.7L2953.4 1256L2959.6 1255.4L2965.7 1254.8L2971.8 1254.1L2978 1253.5L2984.1 1252.9L2990.2 1252.3L2996.3 1251.7L3002.5 1251.1L3008.6 1250.5L3014.7 1249.9L3020.9 1249.2L3027 1248.6L3033.1 1248L3039.3 1247.4L3045.4 1246.8L3051.5 1246.2L3057.7 1245.6L3063.8 1245L3069.9 1244.4L3076 1243.7L3082.2 1243.1L3088.3 1242.5L3094.4 1241.8L3100.6 1241.2L3106.7 1240.5" fill="none" stroke="#3f6bbd" stroke-width="3.9" stroke-linejoin="round"/>
<path d="M2255.6 1196.9L2261.7 1197.6L2267.9 1198.2L2274 1198.8L2280.1 1199.4L2286.3 1200L2292.4 1200.7L2298.5 1201.3L2304.6 1201.9L2310.8 1202.4L2316.9 1203L2323 1203.6L2329.2 1204.2L2335.3 1204.8L2341.4 1205.3L2347.6 1205.9L2353.7 1206.4L2359.8 1207L2366 1207.5L2372.1 1208.1L2378.2 1208.6L2384.3 1209.2L2390.5 1209.7L2396.6 1210.2L2402.7 1210.8L2408.9 1211.3L2415 1211.8L2421.1 1212.3L2427.3 1212.9L2433.4 1213.4L2439.5 1213.9L2445.7 1214.5L2451.8 1215L2457.9 1215.5L2464 1216.1L2470.2 1216.6L2476.3 1217.1L2482.4 1217.7L2488.6 1218.2L2494.7 1218.8L2500.8 1219.4L2507 1219.9L2513.1 1220.5L2519.2 1221.1L2525.4 1221.7L2531.5 1222.4L2537.6 1223L2543.7 1223.7L2549.9 1224.4L2556 1225.1L2562.1 1225.8L2568.3 1226.6L2574.4 1227.4L2580.5 1228.2L2586.7 1229.1L2592.8 1230.1L2598.9 1231.1L2605.1 1232.2L2611.2 1233.3L2617.3 1234.6L2621.5 1235.5L2625.3 1236.5L2628.9 1237.4L2632.3 1238.3L2635.5 1239.3L2638.4 1240.2L2641.2 1241.1L2643.8 1242.1L2646.2 1243L2648.5 1243.9L2650.6 1244.9L2652.6 1245.8L2654.4 1246.8L2656.2 1247.7L2657.8 1248.7L2659.3 1249.6L2660.7 1250.6L2662 1251.5L2663.3 1252.5L2664.4 1253.4L2665.5 1254.4L2666.5 1255.3L2667.5 1256.3L2668.4 1257.2L2669.2 1258.2L2670 1259.2L2670.7 1260.1L2671.4 1261.1L2672 1262L2672.6 1263L2673.1 1264L2673.7 1264.9L2674.2 1265.9L2674.6 1266.9L2675 1267.8L2675.4 1268.8L2675.8 1269.7L2676.1 1270.7L2676.5 1271.7" fill="none" stroke="#3f6bbd" stroke-width="3.4" stroke-dasharray="23 21.5" stroke-dashoffset="0" stroke-linejoin="round"/>
<path d="M2685.8 1271.5L2686.2 1270.5L2686.5 1269.5L2686.9 1268.5L2687.3 1267.6L2687.7 1266.6L2688.1 1265.6L2688.6 1264.6L2689.2 1263.6L2689.7 1262.6L2690.3 1261.7L2690.9 1260.7L2691.6 1259.7L2692.3 1258.7L2693.1 1257.7L2693.9 1256.7L2694.8 1255.7L2695.8 1254.7L2696.8 1253.7L2697.9 1252.7L2699 1251.7L2700.3 1250.7L2701.6 1249.7L2703 1248.7L2704.5 1247.7L2706.1 1246.7L2707.9 1245.7L2709.7 1244.6L2711.7 1243.6L2713.8 1242.6L2716.1 1241.6L2718.5 1240.5L2721.1 1239.5L2723.9 1238.4L2726.8 1237.4L2730 1236.3L2733.4 1235.2L2737 1234.2L2740.8 1233.1L2745 1232L2751.1 1230.4L2757.2 1229L2763.4 1227.7L2769.5 1226.4L2775.6 1225.3L2781.8 1224.1L2787.9 1223L2794 1222L2800.2 1221L2806.3 1220L2812.4 1219.1L2818.6 1218.2L2824.7 1217.3L2830.8 1216.4L2836.9 1215.6L2843.1 1214.7L2849.2 1213.9L2855.3 1213.1L2861.5 1212.3L2867.6 1211.5L2873.7 1210.8L2879.9 1210L2886 1209.3L2892.1 1208.5L2898.3 1207.8L2904.4 1207.1L2910.5 1206.4L2916.6 1205.7L2922.8 1205L2928.9 1204.3L2935 1203.6L2941.2 1202.9L2947.3 1202.2L2953.4 1201.5L2959.6 1200.9L2965.7 1200.2L2971.8 1199.5L2978 1198.8L2984.1 1198.2L2990.2 1197.5L2996.3 1196.9L3002.5 1196.2L3008.6 1195.5L3014.7 1194.9L3020.9 1194.2L3027 1193.6L3033.1 1192.9L3039.3 1192.3L3045.4 1191.6L3051.5 1191L3057.7 1190.4L3063.8 1189.7L3069.9 1189.1L3076 1188.4L3082.2 1187.8L3088.3 1187.1L3094.4 1186.5L3100.6 1185.9L3106.7 1185.2" fill="none" stroke="#3f6bbd" stroke-width="3.4" stroke-dasharray="23 21.5" stroke-dashoffset="0" stroke-linejoin="round"/>
<path d="M2255.6 1061.8L2261.7 1061.9L2267.9 1062.1L2274 1062.3L2280.1 1062.5L2286.3 1062.7L2292.4 1062.9L2298.5 1063.1L2304.6 1063.3L2310.8 1063.5L2316.9 1063.7L2323 1063.9L2329.2 1064.1L2335.3 1064.3L2341.4 1064.5L2347.6 1064.8L2353.7 1065L2359.8 1065.2L2366 1065.5L2372.1 1065.7L2378.2 1066L2384.3 1066.2L2390.5 1066.5L2396.6 1066.7L2402.7 1067L2408.9 1067.3L2415 1067.6L2421.1 1067.9L2427.3 1068.2L2433.4 1068.5L2439.5 1068.8L2445.7 1069.1L2451.8 1069.5L2457.9 1069.8L2464 1070.2L2470.2 1070.5L2476.3 1070.9L2482.4 1071.3L2488.6 1071.7L2494.7 1072.1L2500.8 1072.6L2507 1073L2513.1 1073.5L2519.2 1074L2525.4 1074.5L2531.5 1075L2537.6 1075.6L2543.7 1076.1L2549.9 1076.8L2556 1077.4L2562.1 1078.1L2568.3 1078.8L2574.4 1079.5L2580.5 1080.4L2586.7 1081.2L2592.8 1082.1L2598.9 1083.1L2605.1 1084.2L2611.2 1085.4L2617.3 1086.6L2621.5 1087.6L2625.3 1088.5L2628.9 1089.5L2632.3 1090.4L2635.5 1091.3L2638.4 1092.3L2641.2 1093.2L2643.8 1094.2L2646.2 1095.1L2648.5 1096.1L2650.6 1097L2652.6 1098L2654.4 1099L2656.2 1099.9L2657.8 1100.9L2659.3 1101.8L2660.7 1102.8L2662 1103.8L2663.3 1104.7L2664.4 1105.7L2665.5 1106.6L2666.5 1107.6L2667.5 1108.6L2668.4 1109.5L2669.2 1110.5L2670 1111.5L2670.7 1112.4L2671.4 1113.4L2672 1114.4L2672.6 1115.3L2673.1 1116.3L2673.7 1117.3L2674.2 1118.3L2674.6 1119.2L2675 1120.2L2675.4 1121.2L2675.8 1122.1L2676.1 1123.1L2676.5 1124.1" fill="none" stroke="#e5304a" stroke-width="3.6" stroke-dasharray="23 21.5" stroke-dashoffset="0" stroke-linejoin="round"/>
<path d="M2685.8 1124L2686.2 1123L2686.5 1122L2686.9 1121.1L2687.3 1120.1L2687.7 1119.1L2688.1 1118.1L2688.6 1117.1L2689.2 1116.2L2689.7 1115.2L2690.3 1114.2L2690.9 1113.2L2691.6 1112.3L2692.3 1111.3L2693.1 1110.3L2693.9 1109.3L2694.8 1108.3L2695.8 1107.4L2696.8 1106.4L2697.9 1105.4L2699 1104.4L2700.3 1103.4L2701.6 1102.4L2703 1101.4L2704.5 1100.5L2706.1 1099.5L2707.9 1098.5L2709.7 1097.5L2711.7 1096.5L2713.8 1095.5L2716.1 1094.5L2718.5 1093.5L2721.1 1092.5L2723.9 1091.5L2726.8 1090.5L2730 1089.5L2733.4 1088.5L2737 1087.5L2740.8 1086.5L2745 1085.5L2751.1 1084.1L2757.2 1082.8L2763.4 1081.7L2769.5 1080.6L2775.6 1079.5L2781.8 1078.6L2787.9 1077.7L2794 1076.8L2800.2 1076L2806.3 1075.2L2812.4 1074.4L2818.6 1073.7L2824.7 1073L2830.8 1072.4L2836.9 1071.7L2843.1 1071.1L2849.2 1070.5L2855.3 1070L2861.5 1069.4L2867.6 1068.9L2873.7 1068.4L2879.9 1067.9L2886 1067.4L2892.1 1066.9L2898.3 1066.4L2904.4 1066L2910.5 1065.5L2916.6 1065.1L2922.8 1064.7L2928.9 1064.3L2935 1063.9L2941.2 1063.5L2947.3 1063.1L2953.4 1062.7L2959.6 1062.4L2965.7 1062L2971.8 1061.6L2978 1061.3L2984.1 1061L2990.2 1060.6L2996.3 1060.3L3002.5 1060L3008.6 1059.7L3014.7 1059.4L3020.9 1059.1L3027 1058.8L3033.1 1058.5L3039.3 1058.2L3045.4 1057.9L3051.5 1057.6L3057.7 1057.3L3063.8 1057.1L3069.9 1056.8L3076 1056.5L3082.2 1056.3L3088.3 1056L3094.4 1055.8L3100.6 1055.5L3106.7 1055.3" fill="none" stroke="#e5304a" stroke-width="3.6" stroke-dasharray="23 21.5" stroke-dashoffset="0" stroke-linejoin="round"/>
<path d="M2255.6 1038.3L2261.7 1038.6L2267.9 1039L2274 1039.3L2280.1 1039.6L2286.3 1039.9L2292.4 1040.2L2298.5 1040.5L2304.6 1040.8L2310.8 1041.1L2316.9 1041.4L2323 1041.7L2329.2 1042L2335.3 1042.3L2341.4 1042.6L2347.6 1042.9L2353.7 1043.2L2359.8 1043.5L2366 1043.8L2372.1 1044.2L2378.2 1044.5L2384.3 1044.8L2390.5 1045.1L2396.6 1045.4L2402.7 1045.7L2408.9 1046.1L2415 1046.4L2421.1 1046.7L2427.3 1047.1L2433.4 1047.4L2439.5 1047.8L2445.7 1048.1L2451.8 1048.5L2457.9 1048.8L2464 1049.2L2470.2 1049.6L2476.3 1050L2482.4 1050.4L2488.6 1050.8L2494.7 1051.2L2500.8 1051.7L2507 1052.1L2513.1 1052.6L2519.2 1053.1L2525.4 1053.6L2531.5 1054.1L2537.6 1054.7L2543.7 1055.2L2549.9 1055.8L2556 1056.5L2562.1 1057.1L2568.3 1057.8L2574.4 1058.6L2580.5 1059.4L2586.7 1060.2L2592.8 1061.1L2598.9 1062.1L2605.1 1063.1L2611.2 1064.2L2617.3 1065.5L2621.5 1066.4L2625.3 1067.3L2628.9 1068.3L2632.3 1069.2L2635.5 1070.1L2638.4 1071L2641.2 1072L2643.8 1072.9L2646.2 1073.8L2648.5 1074.8L2650.6 1075.7L2652.6 1076.7L2654.4 1077.6L2656.2 1078.6L2657.8 1079.5L2659.3 1080.5L2660.7 1081.4L2662 1082.4L2663.3 1083.3L2664.4 1084.3L2665.5 1085.3L2666.5 1086.2L2667.5 1087.2L2668.4 1088.1L2669.2 1089.1L2670 1090.1L2670.7 1091L2671.4 1092L2672 1092.9L2672.6 1093.9L2673.1 1094.9L2673.7 1095.8L2674.2 1096.8L2674.6 1097.8L2675 1098.7L2675.4 1099.7L2675.8 1100.7L2676.1 1101.6L2676.5 1102.6" fill="none" stroke="#e5304a" stroke-width="4.2" stroke-linejoin="round"/>
<path d="M2685.8 1102.5L2686.2 1101.5L2686.5 1100.5L2686.9 1099.5L2687.3 1098.6L2687.7 1097.6L2688.1 1096.6L2688.6 1095.6L2689.2 1094.6L2689.7 1093.7L2690.3 1092.7L2690.9 1091.7L2691.6 1090.7L2692.3 1089.7L2693.1 1088.7L2693.9 1087.8L2694.8 1086.8L2695.8 1085.8L2696.8 1084.8L2697.9 1083.8L2699 1082.8L2700.3 1081.8L2701.6 1080.8L2703 1079.8L2704.5 1078.8L2706.1 1077.8L2707.9 1076.8L2709.7 1075.8L2711.7 1074.8L2713.8 1073.8L2716.1 1072.8L2718.5 1071.8L2721.1 1070.8L2723.9 1069.8L2726.8 1068.8L2730 1067.8L2733.4 1066.7L2737 1065.7L2740.8 1064.7L2745 1063.7L2751.1 1062.2L2757.2 1060.9L2763.4 1059.7L2769.5 1058.6L2775.6 1057.5L2781.8 1056.5L2787.9 1055.6L2794 1054.7L2800.2 1053.8L2806.3 1053L2812.4 1052.2L2818.6 1051.5L2824.7 1050.8L2830.8 1050.1L2836.9 1049.4L2843.1 1048.8L2849.2 1048.2L2855.3 1047.6L2861.5 1047L2867.6 1046.5L2873.7 1045.9L2879.9 1045.4L2886 1044.9L2892.1 1044.4L2898.3 1043.9L2904.4 1043.5L2910.5 1043L2916.6 1042.6L2922.8 1042.2L2928.9 1041.7L2935 1041.3L2941.2 1040.9L2947.3 1040.6L2953.4 1040.2L2959.6 1039.8L2965.7 1039.5L2971.8 1039.1L2978 1038.8L2984.1 1038.5L2990.2 1038.1L2996.3 1037.8L3002.5 1037.5L3008.6 1037.2L3014.7 1037L3020.9 1036.7L3027 1036.4L3033.1 1036.1L3039.3 1035.9L3045.4 1035.6L3051.5 1035.4L3057.7 1035.2L3063.8 1034.9L3069.9 1034.7L3076 1034.5L3082.2 1034.3L3088.3 1034.1L3094.4 1033.9L3100.6 1033.7L3106.7 1033.5" fill="none" stroke="#e5304a" stroke-width="4.2" stroke-linejoin="round"/>
</g>
<text x="2282" y="960.6" font-size="56.5">Solid: ON (+Pr)</text>
<text x="2284" y="1031.8" font-size="56.5">Dash: OFF (-Pr)</text>
<text x="2999.5" y="974.9" font-size="67.5">(e)</text>
<text x="2347.5" y="1133.2" font-size="56" fill="#e5304a">TER<tspan font-size="38" dy="15" dx="5">VBE</tspan><tspan dy="-15" dx="2">~4</tspan></text>
<text x="2333.5" y="1339.9" font-size="57" fill="#3f6bbd">TER<tspan font-size="39" dy="16.6" dx="0.5">VBH</tspan><tspan dy="-16.6" dx="3.5">~20</tspan></text>
<text x="2311.5" y="1488.5" font-size="57">TER<tspan font-size="39" dy="14" dx="1">CBE</tspan><tspan dy="-14" dx="2">~10</tspan><tspan font-size="38" dy="-24" dx="1">4</tspan></text>
<text x="2921.5" y="1111.7" font-size="57" fill="#e5304a">J<tspan font-size="39" dy="16.2" dx="3">VBE</tspan></text>
<text x="2917.5" y="1302.8" font-size="57" fill="#3f6bbd">J<tspan font-size="39" dy="17" dx="3">VBH</tspan></text>
<text x="2918.5" y="1417" font-size="57">J<tspan font-size="39" dy="18.8" dx="3.5">CBE</tspan></text>
<path d="M2381.7 1223V1245.3" stroke="#3f6bbd" stroke-width="4"/>
<path d="M2381.7 1207L2376 1220.9L2374.2 1220.9L2374.2 1225L2389.2 1225L2389.2 1220.9L2387.4 1220.9z" fill="#3f6bbd"/>
<path d="M2381.7 1261.3L2387.4 1247.4L2389.2 1247.4L2389.2 1243.3L2374.2 1243.3L2374.2 1247.4L2376 1247.4z" fill="#3f6bbd"/>
<path d="M2303.5 1417.1V1505.6" stroke="#111111" stroke-width="4.5"/>
<path d="M2303.5 1400.1L2297 1414.7L2295 1414.7L2295 1419.1L2312 1419.1L2312 1414.7L2310 1414.7z" fill="#111111"/>
<path d="M2303.5 1522.6L2310 1508L2312 1508L2312 1503.6L2295 1503.6L2295 1508L2297 1508z" fill="#111111"/>
</g>
</svg>
</body>
</html>
